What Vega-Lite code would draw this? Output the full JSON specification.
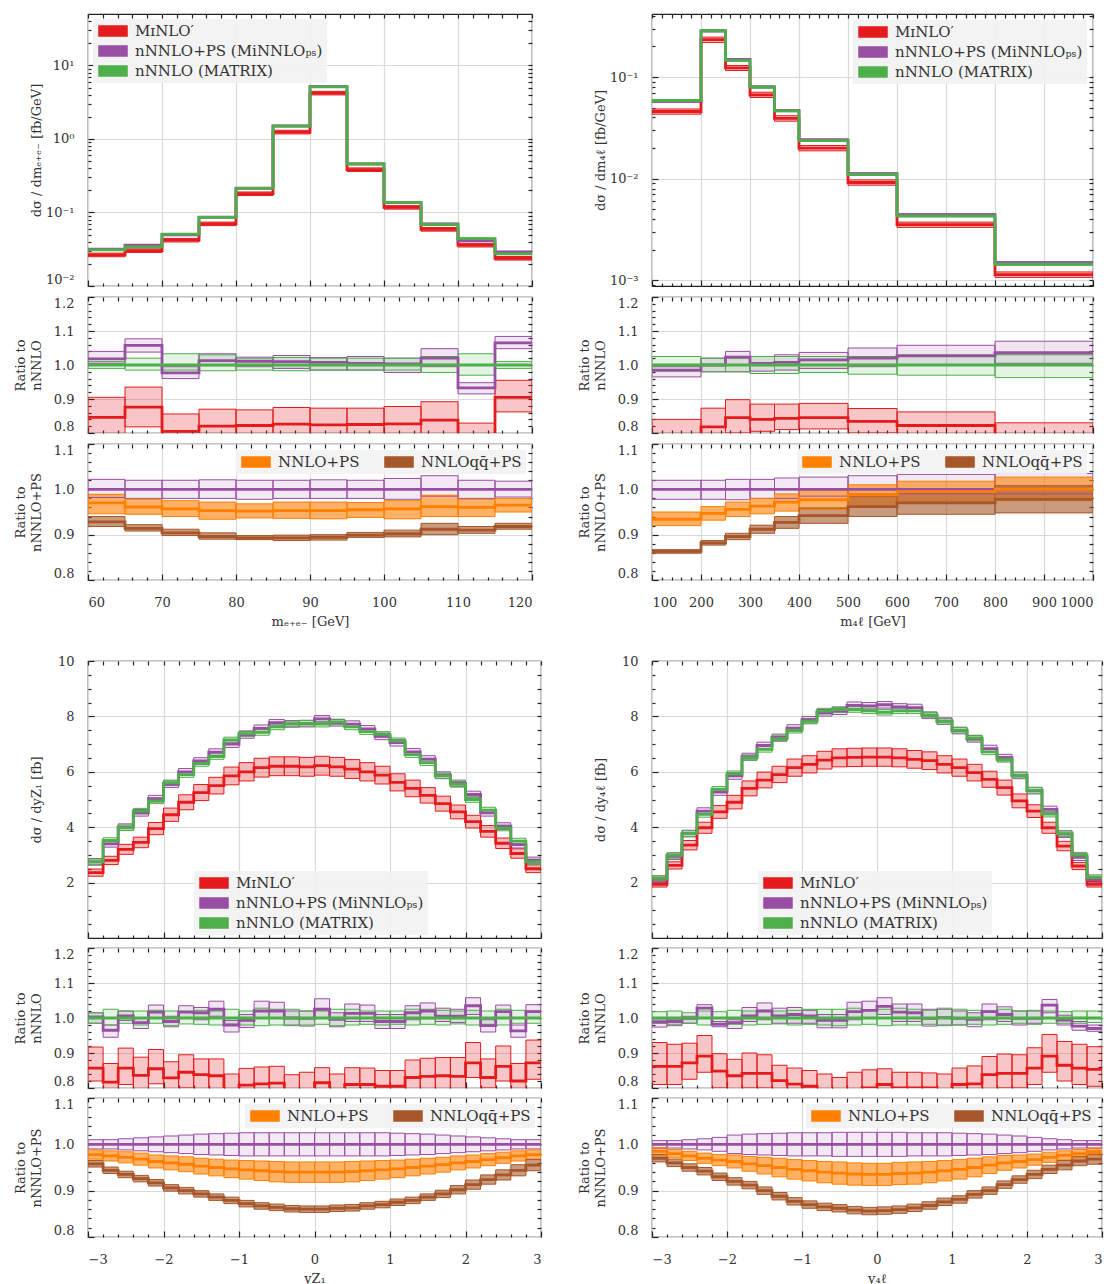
{
"$schema":"https://vega.github.io/schema/vega-lite/v6.json",
"padding":{"left":13,"top":12,"right":4,"bottom":2},
"data":{"values":[
{"o":"A","s":"r","a":60,"b":65,"c":0.0265,"l":0.025,"h":0.028,"q":0.846,"ql":0.79,"qh":0.905},
{"o":"A","s":"p","a":60,"b":65,"c":0.0316,"l":0.0311,"h":0.0321,"q":1.018,"ql":1.005,"qh":1.04,"r":1,"rl":0.982,"rh":1.022},
{"o":"A","s":"g","a":60,"b":65,"c":0.031,"l":0.0304,"h":0.0316,"q":1,"ql":0.99,"qh":1.01},
{"o":"A","s":"o","a":60,"b":65,"r":0.97,"rl":0.946,"rh":0.989},
{"o":"A","s":"b","a":60,"b":65,"r":0.928,"rl":0.918,"rh":0.94},
{"o":"A","s":"r","a":65,"b":70,"c":0.0303,"l":0.0286,"h":0.032,"q":0.876,"ql":0.818,"qh":0.935},
{"o":"A","s":"p","a":65,"b":70,"c":0.036,"l":0.0354,"h":0.0366,"q":1.0575,"ql":1.038,"qh":1.077,"r":1,"rl":0.98,"rh":1.02},
{"o":"A","s":"g","a":65,"b":70,"c":0.034,"l":0.0333,"h":0.0347,"q":1,"ql":0.985,"qh":1.02},
{"o":"A","s":"o","a":65,"b":70,"r":0.961,"rl":0.945,"rh":0.978},
{"o":"A","s":"b","a":65,"b":70,"r":0.914,"rl":0.908,"rh":0.922},
{"o":"A","s":"r","a":70,"b":75,"c":0.042,"l":0.0397,"h":0.0444,"q":0.805,"ql":0.755,"qh":0.856},
{"o":"A","s":"p","a":70,"b":75,"c":0.0495,"l":0.0487,"h":0.0503,"q":0.977,"ql":0.96,"qh":0.995,"r":1,"rl":0.98,"rh":1.02},
{"o":"A","s":"g","a":70,"b":75,"c":0.0507,"l":0.0497,"h":0.0517,"q":1,"ql":0.985,"qh":1.033},
{"o":"A","s":"o","a":70,"b":75,"r":0.957,"rl":0.94,"rh":0.975},
{"o":"A","s":"b","a":70,"b":75,"r":0.904,"rl":0.898,"rh":0.912},
{"o":"A","s":"r","a":75,"b":80,"c":0.07,"l":0.0662,"h":0.074,"q":0.82,"ql":0.775,"qh":0.87},
{"o":"A","s":"p","a":75,"b":80,"c":0.0866,"l":0.0852,"h":0.088,"q":1.013,"ql":0.998,"qh":1.033,"r":1,"rl":0.98,"rh":1.021},
{"o":"A","s":"g","a":75,"b":80,"c":0.0855,"l":0.0838,"h":0.0872,"q":1,"ql":0.983,"qh":1.03},
{"o":"A","s":"o","a":75,"b":80,"r":0.953,"rl":0.934,"rh":0.972},
{"o":"A","s":"b","a":75,"b":80,"r":0.896,"rl":0.89,"rh":0.904},
{"o":"A","s":"r","a":80,"b":85,"c":0.18,"l":0.17,"h":0.19,"q":0.822,"ql":0.778,"qh":0.868},
{"o":"A","s":"p","a":80,"b":85,"c":0.214,"l":0.211,"h":0.217,"q":1.011,"ql":0.995,"qh":1.023,"r":1,"rl":0.978,"rh":1.02},
{"o":"A","s":"g","a":80,"b":85,"c":0.212,"l":0.208,"h":0.216,"q":1,"ql":0.985,"qh":1.02},
{"o":"A","s":"o","a":80,"b":85,"r":0.952,"rl":0.937,"rh":0.968},
{"o":"A","s":"b","a":80,"b":85,"r":0.893,"rl":0.889,"rh":0.898},
{"o":"A","s":"r","a":85,"b":90,"c":1.24,"l":1.17,"h":1.31,"q":0.826,"ql":0.78,"qh":0.875},
{"o":"A","s":"p","a":85,"b":90,"c":1.505,"l":1.48,"h":1.53,"q":1.01,"ql":0.99,"qh":1.028,"r":1,"rl":0.98,"rh":1.02},
{"o":"A","s":"g","a":85,"b":90,"c":1.49,"l":1.46,"h":1.52,"q":1,"ql":0.983,"qh":1.022},
{"o":"A","s":"o","a":85,"b":90,"r":0.953,"rl":0.936,"rh":0.972},
{"o":"A","s":"b","a":85,"b":90,"r":0.893,"rl":0.887,"rh":0.899},
{"o":"A","s":"r","a":90,"b":95,"c":4.2,"l":3.97,"h":4.44,"q":0.824,"ql":0.778,"qh":0.873},
{"o":"A","s":"p","a":90,"b":95,"c":5.16,"l":5.08,"h":5.24,"q":1.008,"ql":0.985,"qh":1.022,"r":1,"rl":0.98,"rh":1.021},
{"o":"A","s":"g","a":90,"b":95,"c":5.12,"l":5.02,"h":5.22,"q":1,"ql":0.985,"qh":1.02},
{"o":"A","s":"o","a":90,"b":95,"r":0.953,"rl":0.935,"rh":0.972},
{"o":"A","s":"b","a":90,"b":95,"r":0.894,"rl":0.888,"rh":0.9},
{"o":"A","s":"r","a":95,"b":100,"c":0.382,"l":0.361,"h":0.404,"q":0.825,"ql":0.778,"qh":0.873},
{"o":"A","s":"p","a":95,"b":100,"c":0.458,"l":0.451,"h":0.465,"q":1.005,"ql":0.985,"qh":1.025,"r":1,"rl":0.98,"rh":1.02},
{"o":"A","s":"g","a":95,"b":100,"c":0.456,"l":0.447,"h":0.465,"q":1,"ql":0.985,"qh":1.02},
{"o":"A","s":"o","a":95,"b":100,"r":0.955,"rl":0.938,"rh":0.971},
{"o":"A","s":"b","a":95,"b":100,"r":0.899,"rl":0.894,"rh":0.905},
{"o":"A","s":"r","a":100,"b":105,"c":0.117,"l":0.111,"h":0.124,"q":0.827,"ql":0.78,"qh":0.878},
{"o":"A","s":"p","a":100,"b":105,"c":0.1374,"l":0.135,"h":0.1396,"q":1.003,"ql":0.978,"qh":1.02,"r":1,"rl":0.978,"rh":1.024},
{"o":"A","s":"g","a":100,"b":105,"c":0.137,"l":0.134,"h":0.14,"q":1,"ql":0.985,"qh":1.02},
{"o":"A","s":"o","a":100,"b":105,"r":0.957,"rl":0.935,"rh":0.975},
{"o":"A","s":"b","a":100,"b":105,"r":0.902,"rl":0.895,"rh":0.91},
{"o":"A","s":"r","a":105,"b":110,"c":0.059,"l":0.0557,"h":0.0624,"q":0.838,"ql":0.79,"qh":0.892},
{"o":"A","s":"p","a":105,"b":110,"c":0.07,"l":0.0688,"h":0.0712,"q":1.02,"ql":0.995,"qh":1.048,"r":1,"rl":0.985,"rh":1.03},
{"o":"A","s":"g","a":105,"b":110,"c":0.0686,"l":0.0672,"h":0.07,"q":1,"ql":0.978,"qh":1.025},
{"o":"A","s":"o","a":105,"b":110,"r":0.962,"rl":0.94,"rh":0.987},
{"o":"A","s":"b","a":105,"b":110,"r":0.912,"rl":0.9,"rh":0.925},
{"o":"A","s":"r","a":110,"b":115,"c":0.0359,"l":0.0339,"h":0.038,"q":0.78,"ql":0.73,"qh":0.829},
{"o":"A","s":"p","a":110,"b":115,"c":0.0412,"l":0.0405,"h":0.0419,"q":0.933,"ql":0.915,"qh":0.948,"r":1,"rl":0.98,"rh":1.02},
{"o":"A","s":"g","a":110,"b":115,"c":0.0442,"l":0.0433,"h":0.0451,"q":1,"ql":0.97,"qh":1.033},
{"o":"A","s":"o","a":110,"b":115,"r":0.96,"rl":0.94,"rh":0.978},
{"o":"A","s":"b","a":110,"b":115,"r":0.91,"rl":0.903,"rh":0.918},
{"o":"A","s":"r","a":115,"b":120,"c":0.0238,"l":0.0225,"h":0.0252,"q":0.905,"ql":0.862,"qh":0.955},
{"o":"A","s":"p","a":115,"b":120,"c":0.0291,"l":0.0286,"h":0.0296,"q":1.065,"ql":1.048,"qh":1.084,"r":1,"rl":0.983,"rh":1.018},
{"o":"A","s":"g","a":115,"b":120,"c":0.0273,"l":0.0268,"h":0.0278,"q":1,"ql":0.99,"qh":1.01},
{"o":"A","s":"o","a":115,"b":120,"r":0.965,"rl":0.95,"rh":0.98},
{"o":"A","s":"b","a":115,"b":120,"r":0.918,"rl":0.912,"rh":0.925},
{"o":"B","s":"r","a":100,"b":200,"c":0.0458,"l":0.0431,"h":0.0485,"q":0.79,"ql":0.75,"qh":0.84},
{"o":"B","s":"p","a":100,"b":200,"c":0.0578,"l":0.0566,"h":0.059,"q":0.985,"ql":0.965,"qh":0.995,"r":1,"rl":0.978,"rh":1.02},
{"o":"B","s":"g","a":100,"b":200,"c":0.0587,"l":0.0575,"h":0.0599,"q":1,"ql":0.982,"qh":1.025},
{"o":"B","s":"o","a":100,"b":200,"r":0.934,"rl":0.92,"rh":0.95},
{"o":"B","s":"b","a":100,"b":200,"r":0.863,"rl":0.859,"rh":0.867},
{"o":"B","s":"r","a":200,"b":250,"c":0.233,"l":0.219,"h":0.247,"q":0.818,"ql":0.77,"qh":0.873},
{"o":"B","s":"p","a":200,"b":250,"c":0.285,"l":0.279,"h":0.291,"q":1,"ql":0.98,"qh":1.02,"r":1,"rl":0.978,"rh":1.02},
{"o":"B","s":"g","a":200,"b":250,"c":0.285,"l":0.279,"h":0.291,"q":1,"ql":0.98,"qh":1.02},
{"o":"B","s":"o","a":200,"b":250,"r":0.947,"rl":0.932,"rh":0.962},
{"o":"B","s":"b","a":200,"b":250,"r":0.882,"rl":0.877,"rh":0.887},
{"o":"B","s":"r","a":250,"b":300,"c":0.123,"l":0.116,"h":0.13,"q":0.845,"ql":0.8,"qh":0.898},
{"o":"B","s":"p","a":250,"b":300,"c":0.149,"l":0.146,"h":0.152,"q":1.023,"ql":0.98,"qh":1.04,"r":1,"rl":0.977,"rh":1.022},
{"o":"B","s":"g","a":250,"b":300,"c":0.146,"l":0.143,"h":0.149,"q":1,"ql":0.98,"qh":1.02},
{"o":"B","s":"o","a":250,"b":300,"r":0.956,"rl":0.94,"rh":0.972},
{"o":"B","s":"b","a":250,"b":300,"r":0.896,"rl":0.889,"rh":0.903},
{"o":"B","s":"r","a":300,"b":350,"c":0.0669,"l":0.0629,"h":0.0709,"q":0.84,"ql":0.805,"qh":0.885},
{"o":"B","s":"p","a":300,"b":350,"c":0.08,"l":0.0784,"h":0.0816,"q":1.005,"ql":0.982,"qh":1.025,"r":1,"rl":0.98,"rh":1.022},
{"o":"B","s":"g","a":300,"b":350,"c":0.0796,"l":0.078,"h":0.0812,"q":1,"ql":0.975,"qh":1.025},
{"o":"B","s":"o","a":300,"b":350,"r":0.963,"rl":0.946,"rh":0.98},
{"o":"B","s":"b","a":300,"b":350,"r":0.912,"rl":0.903,"rh":0.921},
{"o":"B","s":"r","a":350,"b":400,"c":0.0392,"l":0.0368,"h":0.0416,"q":0.843,"ql":0.81,"qh":0.885},
{"o":"B","s":"p","a":350,"b":400,"c":0.0469,"l":0.046,"h":0.0478,"q":1.008,"ql":0.985,"qh":1.03,"r":1,"rl":0.98,"rh":1.025},
{"o":"B","s":"g","a":350,"b":400,"c":0.0465,"l":0.0456,"h":0.0474,"q":1,"ql":0.975,"qh":1.025},
{"o":"B","s":"o","a":350,"b":400,"r":0.972,"rl":0.952,"rh":0.99},
{"o":"B","s":"b","a":350,"b":400,"r":0.927,"rl":0.914,"rh":0.94},
{"o":"B","s":"r","a":400,"b":500,"c":0.02,"l":0.0188,"h":0.0212,"q":0.845,"ql":0.812,"qh":0.887},
{"o":"B","s":"p","a":400,"b":500,"c":0.0241,"l":0.0236,"h":0.0246,"q":1.015,"ql":0.99,"qh":1.037,"r":1,"rl":0.985,"rh":1.027},
{"o":"B","s":"g","a":400,"b":500,"c":0.0237,"l":0.0232,"h":0.0242,"q":1,"ql":0.978,"qh":1.025},
{"o":"B","s":"o","a":400,"b":500,"r":0.977,"rl":0.955,"rh":0.998},
{"o":"B","s":"b","a":400,"b":500,"r":0.942,"rl":0.925,"rh":0.959},
{"o":"B","s":"r","a":500,"b":600,"c":0.00918,"l":0.00863,"h":0.00973,"q":0.834,"ql":0.8,"qh":0.872},
{"o":"B","s":"p","a":500,"b":600,"c":0.0112,"l":0.011,"h":0.0114,"q":1.02,"ql":0.995,"qh":1.05,"r":1,"rl":0.99,"rh":1.03},
{"o":"B","s":"g","a":500,"b":600,"c":0.011,"l":0.0108,"h":0.0112,"q":1,"ql":0.973,"qh":1.025},
{"o":"B","s":"o","a":500,"b":600,"r":0.988,"rl":0.963,"rh":1.01},
{"o":"B","s":"b","a":500,"b":600,"r":0.962,"rl":0.94,"rh":0.984},
{"o":"B","s":"r","a":600,"b":800,"c":0.00353,"l":0.00332,"h":0.00374,"q":0.822,"ql":0.79,"qh":0.862},
{"o":"B","s":"p","a":600,"b":800,"c":0.00442,"l":0.00433,"h":0.00451,"q":1.027,"ql":1,"qh":1.058,"r":1,"rl":0.99,"rh":1.033},
{"o":"B","s":"g","a":600,"b":800,"c":0.0043,"l":0.00421,"h":0.00439,"q":1,"ql":0.97,"qh":1.03},
{"o":"B","s":"o","a":600,"b":800,"r":0.995,"rl":0.97,"rh":1.018},
{"o":"B","s":"b","a":600,"b":800,"r":0.97,"rl":0.945,"rh":0.995},
{"o":"B","s":"r","a":800,"b":1000,"c":0.00114,"l":0.00107,"h":0.00121,"q":0.79,"ql":0.75,"qh":0.83},
{"o":"B","s":"p","a":800,"b":1000,"c":0.00149,"l":0.00146,"h":0.00152,"q":1.036,"ql":1.005,"qh":1.07,"r":1,"rl":0.99,"rh":1.035},
{"o":"B","s":"g","a":800,"b":1000,"c":0.00144,"l":0.00141,"h":0.00147,"q":1,"ql":0.963,"qh":1.03},
{"o":"B","s":"o","a":800,"b":1000,"r":1,"rl":0.975,"rh":1.027},
{"o":"B","s":"b","a":800,"b":1000,"r":0.978,"rl":0.948,"rh":1.008},
{"o":"C","s":"r","a":-3,"b":-2.8,"c":2.36,"l":2.23,"h":2.49,"q":0.857,"ql":0.82,"qh":0.917},
{"o":"C","s":"p","a":-3,"b":-2.8,"c":2.75,"l":2.63,"h":2.87,"q":1.003,"ql":0.985,"qh":1.015,"r":1,"rl":0.99,"rh":1.01},
{"o":"C","s":"g","a":-3,"b":-2.8,"c":2.75,"l":2.65,"h":2.85,"q":1,"ql":0.985,"qh":1.015},
{"o":"C","s":"o","a":-3,"b":-2.8,"r":0.978,"rl":0.968,"rh":0.988},
{"o":"C","s":"b","a":-3,"b":-2.8,"r":0.958,"rl":0.951,"rh":0.965},
{"o":"C","s":"r","a":-2.8,"b":-2.6,"c":2.8,"l":2.65,"h":2.95,"q":0.817,"ql":0.78,"qh":0.87},
{"o":"C","s":"p","a":-2.8,"b":-2.6,"c":3.4,"l":3.28,"h":3.52,"q":0.965,"ql":0.945,"qh":0.98,"r":1,"rl":0.99,"rh":1.01},
{"o":"C","s":"g","a":-2.8,"b":-2.6,"c":3.52,"l":3.42,"h":3.62,"q":1,"ql":0.98,"qh":1.025},
{"o":"C","s":"o","a":-2.8,"b":-2.6,"r":0.975,"rl":0.964,"rh":0.986},
{"o":"C","s":"b","a":-2.8,"b":-2.6,"r":0.944,"rl":0.937,"rh":0.951},
{"o":"C","s":"r","a":-2.6,"b":-2.4,"c":3.2,"l":3.02,"h":3.38,"q":0.857,"ql":0.81,"qh":0.914},
{"o":"C","s":"p","a":-2.6,"b":-2.4,"c":4,"l":3.88,"h":4.12,"q":1.006,"ql":0.993,"qh":1.02,"r":1,"rl":0.988,"rh":1.012},
{"o":"C","s":"g","a":-2.6,"b":-2.4,"c":3.98,"l":3.88,"h":4.08,"q":1,"ql":0.985,"qh":1.02},
{"o":"C","s":"o","a":-2.6,"b":-2.4,"r":0.972,"rl":0.96,"rh":0.984},
{"o":"C","s":"b","a":-2.6,"b":-2.4,"r":0.935,"rl":0.928,"rh":0.942},
{"o":"C","s":"r","a":-2.4,"b":-2.2,"c":3.45,"l":3.26,"h":3.64,"q":0.836,"ql":0.79,"qh":0.888},
{"o":"C","s":"p","a":-2.4,"b":-2.2,"c":4.52,"l":4.4,"h":4.64,"q":0.987,"ql":0.97,"qh":1,"r":1,"rl":0.986,"rh":1.014},
{"o":"C","s":"g","a":-2.4,"b":-2.2,"c":4.58,"l":4.48,"h":4.68,"q":1,"ql":0.98,"qh":1.02},
{"o":"C","s":"o","a":-2.4,"b":-2.2,"r":0.968,"rl":0.955,"rh":0.981},
{"o":"C","s":"b","a":-2.4,"b":-2.2,"r":0.926,"rl":0.919,"rh":0.933},
{"o":"C","s":"r","a":-2.2,"b":-2,"c":3.95,"l":3.73,"h":4.17,"q":0.855,"ql":0.812,"qh":0.91},
{"o":"C","s":"p","a":-2.2,"b":-2,"c":5.03,"l":4.91,"h":5.15,"q":1.017,"ql":1,"qh":1.037,"r":1,"rl":0.984,"rh":1.016},
{"o":"C","s":"g","a":-2.2,"b":-2,"c":4.95,"l":4.85,"h":5.05,"q":1,"ql":0.985,"qh":1.022},
{"o":"C","s":"o","a":-2.2,"b":-2,"r":0.963,"rl":0.949,"rh":0.977},
{"o":"C","s":"b","a":-2.2,"b":-2,"r":0.917,"rl":0.91,"rh":0.924},
{"o":"C","s":"r","a":-2,"b":-1.8,"c":4.45,"l":4.21,"h":4.69,"q":0.829,"ql":0.785,"qh":0.875},
{"o":"C","s":"p","a":-2,"b":-1.8,"c":5.55,"l":5.43,"h":5.67,"q":0.99,"ql":0.975,"qh":1.005,"r":1,"rl":0.982,"rh":1.018},
{"o":"C","s":"g","a":-2,"b":-1.8,"c":5.6,"l":5.5,"h":5.7,"q":1,"ql":0.978,"qh":1.02},
{"o":"C","s":"o","a":-2,"b":-1.8,"r":0.96,"rl":0.945,"rh":0.975},
{"o":"C","s":"b","a":-2,"b":-1.8,"r":0.906,"rl":0.899,"rh":0.913},
{"o":"C","s":"r","a":-1.8,"b":-1.6,"c":4.9,"l":4.63,"h":5.17,"q":0.845,"ql":0.8,"qh":0.895},
{"o":"C","s":"p","a":-1.8,"b":-1.6,"c":6,"l":5.88,"h":6.12,"q":1.017,"ql":1,"qh":1.035,"r":1,"rl":0.98,"rh":1.02},
{"o":"C","s":"g","a":-1.8,"b":-1.6,"c":5.9,"l":5.8,"h":6,"q":1,"ql":0.983,"qh":1.02},
{"o":"C","s":"o","a":-1.8,"b":-1.6,"r":0.957,"rl":0.941,"rh":0.973},
{"o":"C","s":"b","a":-1.8,"b":-1.6,"r":0.9,"rl":0.893,"rh":0.907},
{"o":"C","s":"r","a":-1.6,"b":-1.4,"c":5.25,"l":4.96,"h":5.54,"q":0.838,"ql":0.795,"qh":0.883},
{"o":"C","s":"p","a":-1.6,"b":-1.4,"c":6.39,"l":6.27,"h":6.51,"q":1.015,"ql":0.995,"qh":1.03,"r":1,"rl":0.978,"rh":1.022},
{"o":"C","s":"g","a":-1.6,"b":-1.4,"c":6.3,"l":6.2,"h":6.4,"q":1,"ql":0.982,"qh":1.022},
{"o":"C","s":"o","a":-1.6,"b":-1.4,"r":0.953,"rl":0.936,"rh":0.97},
{"o":"C","s":"b","a":-1.6,"b":-1.4,"r":0.893,"rl":0.886,"rh":0.9},
{"o":"C","s":"r","a":-1.4,"b":-1.2,"c":5.5,"l":5.2,"h":5.8,"q":0.835,"ql":0.79,"qh":0.883},
{"o":"C","s":"p","a":-1.4,"b":-1.2,"c":6.71,"l":6.59,"h":6.83,"q":1.025,"ql":1.005,"qh":1.048,"r":1,"rl":0.977,"rh":1.023},
{"o":"C","s":"g","a":-1.4,"b":-1.2,"c":6.55,"l":6.45,"h":6.65,"q":1,"ql":0.98,"qh":1.02},
{"o":"C","s":"o","a":-1.4,"b":-1.2,"r":0.95,"rl":0.932,"rh":0.968},
{"o":"C","s":"b","a":-1.4,"b":-1.2,"r":0.886,"rl":0.879,"rh":0.893},
{"o":"C","s":"r","a":-1.2,"b":-1,"c":5.85,"l":5.53,"h":6.17,"q":0.79,"ql":0.76,"qh":0.84},
{"o":"C","s":"p","a":-1.2,"b":-1,"c":7,"l":6.88,"h":7.12,"q":0.98,"ql":0.96,"qh":0.993,"r":1,"rl":0.976,"rh":1.024},
{"o":"C","s":"g","a":-1.2,"b":-1,"c":7.15,"l":7.05,"h":7.25,"q":1,"ql":0.982,"qh":1.025},
{"o":"C","s":"o","a":-1.2,"b":-1,"r":0.947,"rl":0.928,"rh":0.966},
{"o":"C","s":"b","a":-1.2,"b":-1,"r":0.879,"rl":0.872,"rh":0.886},
{"o":"C","s":"r","a":-1,"b":-0.8,"c":6,"l":5.67,"h":6.33,"q":0.808,"ql":0.77,"qh":0.856},
{"o":"C","s":"p","a":-1,"b":-0.8,"c":7.33,"l":7.21,"h":7.45,"q":0.993,"ql":0.973,"qh":1.01,"r":1,"rl":0.975,"rh":1.025},
{"o":"C","s":"g","a":-1,"b":-0.8,"c":7.38,"l":7.28,"h":7.48,"q":1,"ql":0.98,"qh":1.02},
{"o":"C","s":"o","a":-1,"b":-0.8,"r":0.945,"rl":0.925,"rh":0.965},
{"o":"C","s":"b","a":-1,"b":-0.8,"r":0.872,"rl":0.865,"rh":0.879},
{"o":"C","s":"r","a":-0.8,"b":-0.6,"c":6.15,"l":5.81,"h":6.49,"q":0.812,"ql":0.77,"qh":0.86},
{"o":"C","s":"p","a":-0.8,"b":-0.6,"c":7.57,"l":7.45,"h":7.69,"q":1.02,"ql":1,"qh":1.048,"r":1,"rl":0.975,"rh":1.025},
{"o":"C","s":"g","a":-0.8,"b":-0.6,"c":7.42,"l":7.32,"h":7.52,"q":1,"ql":0.978,"qh":1.028},
{"o":"C","s":"o","a":-0.8,"b":-0.6,"r":0.943,"rl":0.922,"rh":0.964},
{"o":"C","s":"b","a":-0.8,"b":-0.6,"r":0.867,"rl":0.86,"rh":0.874},
{"o":"C","s":"r","a":-0.6,"b":-0.4,"c":6.2,"l":5.86,"h":6.54,"q":0.814,"ql":0.775,"qh":0.862},
{"o":"C","s":"p","a":-0.6,"b":-0.4,"c":7.77,"l":7.65,"h":7.89,"q":1.02,"ql":1,"qh":1.045,"r":1,"rl":0.975,"rh":1.025},
{"o":"C","s":"g","a":-0.6,"b":-0.4,"c":7.62,"l":7.52,"h":7.72,"q":1,"ql":0.98,"qh":1.025},
{"o":"C","s":"o","a":-0.6,"b":-0.4,"r":0.941,"rl":0.919,"rh":0.963},
{"o":"C","s":"b","a":-0.6,"b":-0.4,"r":0.864,"rl":0.857,"rh":0.871},
{"o":"C","s":"r","a":-0.4,"b":-0.2,"c":6.2,"l":5.86,"h":6.54,"q":0.795,"ql":0.76,"qh":0.838},
{"o":"C","s":"p","a":-0.4,"b":-0.2,"c":7.73,"l":7.61,"h":7.85,"q":1,"ql":0.98,"qh":1.02,"r":1,"rl":0.975,"rh":1.025},
{"o":"C","s":"g","a":-0.4,"b":-0.2,"c":7.73,"l":7.63,"h":7.83,"q":1,"ql":0.978,"qh":1.025},
{"o":"C","s":"o","a":-0.4,"b":-0.2,"r":0.94,"rl":0.918,"rh":0.962},
{"o":"C","s":"b","a":-0.4,"b":-0.2,"r":0.861,"rl":0.854,"rh":0.868},
{"o":"C","s":"r","a":-0.2,"b":0,"c":6.18,"l":5.84,"h":6.52,"q":0.795,"ql":0.76,"qh":0.845},
{"o":"C","s":"p","a":-0.2,"b":0,"c":7.74,"l":7.62,"h":7.86,"q":0.999,"ql":0.977,"qh":1.02,"r":1,"rl":0.975,"rh":1.025},
{"o":"C","s":"g","a":-0.2,"b":0,"c":7.75,"l":7.65,"h":7.85,"q":1,"ql":0.98,"qh":1.02},
{"o":"C","s":"o","a":-0.2,"b":0,"r":0.94,"rl":0.918,"rh":0.962},
{"o":"C","s":"b","a":-0.2,"b":0,"r":0.86,"rl":0.853,"rh":0.867},
{"o":"C","s":"r","a":0,"b":0.2,"c":6.22,"l":5.88,"h":6.56,"q":0.815,"ql":0.78,"qh":0.858},
{"o":"C","s":"p","a":0,"b":0.2,"c":7.91,"l":7.79,"h":8.03,"q":1.025,"ql":1,"qh":1.055,"r":1,"rl":0.975,"rh":1.025},
{"o":"C","s":"g","a":0,"b":0.2,"c":7.72,"l":7.62,"h":7.82,"q":1,"ql":0.982,"qh":1.02},
{"o":"C","s":"o","a":0,"b":0.2,"r":0.94,"rl":0.918,"rh":0.962},
{"o":"C","s":"b","a":0,"b":0.2,"r":0.86,"rl":0.853,"rh":0.867},
{"o":"C","s":"r","a":0.2,"b":0.4,"c":6.18,"l":5.84,"h":6.52,"q":0.795,"ql":0.76,"qh":0.84},
{"o":"C","s":"p","a":0.2,"b":0.4,"c":7.77,"l":7.65,"h":7.89,"q":0.996,"ql":0.975,"qh":1.015,"r":1,"rl":0.975,"rh":1.025},
{"o":"C","s":"g","a":0.2,"b":0.4,"c":7.8,"l":7.7,"h":7.9,"q":1,"ql":0.978,"qh":1.025},
{"o":"C","s":"o","a":0.2,"b":0.4,"r":0.94,"rl":0.918,"rh":0.962},
{"o":"C","s":"b","a":0.2,"b":0.4,"r":0.862,"rl":0.855,"rh":0.869},
{"o":"C","s":"r","a":0.4,"b":0.6,"c":6.1,"l":5.76,"h":6.44,"q":0.81,"ql":0.77,"qh":0.858},
{"o":"C","s":"p","a":0.4,"b":0.6,"c":7.72,"l":7.6,"h":7.84,"q":1.013,"ql":0.99,"qh":1.04,"r":1,"rl":0.975,"rh":1.025},
{"o":"C","s":"g","a":0.4,"b":0.6,"c":7.62,"l":7.52,"h":7.72,"q":1,"ql":0.98,"qh":1.025},
{"o":"C","s":"o","a":0.4,"b":0.6,"r":0.941,"rl":0.919,"rh":0.963},
{"o":"C","s":"b","a":0.4,"b":0.6,"r":0.863,"rl":0.856,"rh":0.87},
{"o":"C","s":"r","a":0.6,"b":0.8,"c":6,"l":5.67,"h":6.33,"q":0.81,"ql":0.77,"qh":0.857},
{"o":"C","s":"p","a":0.6,"b":0.8,"c":7.55,"l":7.43,"h":7.67,"q":1.013,"ql":0.99,"qh":1.037,"r":1,"rl":0.975,"rh":1.025},
{"o":"C","s":"g","a":0.6,"b":0.8,"c":7.45,"l":7.35,"h":7.55,"q":1,"ql":0.982,"qh":1.02},
{"o":"C","s":"o","a":0.6,"b":0.8,"r":0.943,"rl":0.922,"rh":0.964},
{"o":"C","s":"b","a":0.6,"b":0.8,"r":0.867,"rl":0.86,"rh":0.874},
{"o":"C","s":"r","a":0.8,"b":1,"c":5.88,"l":5.56,"h":6.2,"q":0.805,"ql":0.77,"qh":0.85},
{"o":"C","s":"p","a":0.8,"b":1,"c":7.28,"l":7.16,"h":7.4,"q":0.99,"ql":0.97,"qh":1.01,"r":1,"rl":0.975,"rh":1.025},
{"o":"C","s":"g","a":0.8,"b":1,"c":7.35,"l":7.25,"h":7.45,"q":1,"ql":0.98,"qh":1.02},
{"o":"C","s":"o","a":0.8,"b":1,"r":0.945,"rl":0.925,"rh":0.965},
{"o":"C","s":"b","a":0.8,"b":1,"r":0.87,"rl":0.863,"rh":0.877},
{"o":"C","s":"r","a":1,"b":1.2,"c":5.62,"l":5.31,"h":5.93,"q":0.805,"ql":0.77,"qh":0.85},
{"o":"C","s":"p","a":1,"b":1.2,"c":7.05,"l":6.93,"h":7.17,"q":0.99,"ql":0.97,"qh":1.01,"r":1,"rl":0.976,"rh":1.024},
{"o":"C","s":"g","a":1,"b":1.2,"c":7.12,"l":7.02,"h":7.22,"q":1,"ql":0.982,"qh":1.02},
{"o":"C","s":"o","a":1,"b":1.2,"r":0.947,"rl":0.928,"rh":0.966},
{"o":"C","s":"b","a":1,"b":1.2,"r":0.875,"rl":0.868,"rh":0.882},
{"o":"C","s":"r","a":1.2,"b":1.4,"c":5.4,"l":5.1,"h":5.7,"q":0.83,"ql":0.79,"qh":0.88},
{"o":"C","s":"p","a":1.2,"b":1.4,"c":6.72,"l":6.6,"h":6.84,"q":1.015,"ql":0.995,"qh":1.035,"r":1,"rl":0.977,"rh":1.023},
{"o":"C","s":"g","a":1.2,"b":1.4,"c":6.62,"l":6.52,"h":6.72,"q":1,"ql":0.98,"qh":1.025},
{"o":"C","s":"o","a":1.2,"b":1.4,"r":0.95,"rl":0.932,"rh":0.968},
{"o":"C","s":"b","a":1.2,"b":1.4,"r":0.879,"rl":0.872,"rh":0.886},
{"o":"C","s":"r","a":1.4,"b":1.6,"c":5.15,"l":4.87,"h":5.43,"q":0.833,"ql":0.79,"qh":0.885},
{"o":"C","s":"p","a":1.4,"b":1.6,"c":6.46,"l":6.34,"h":6.58,"q":1.02,"ql":0.998,"qh":1.043,"r":1,"rl":0.978,"rh":1.022},
{"o":"C","s":"g","a":1.4,"b":1.6,"c":6.33,"l":6.23,"h":6.43,"q":1,"ql":0.982,"qh":1.025},
{"o":"C","s":"o","a":1.4,"b":1.6,"r":0.953,"rl":0.936,"rh":0.97},
{"o":"C","s":"b","a":1.4,"b":1.6,"r":0.886,"rl":0.879,"rh":0.893},
{"o":"C","s":"r","a":1.6,"b":1.8,"c":4.85,"l":4.58,"h":5.12,"q":0.835,"ql":0.79,"qh":0.887},
{"o":"C","s":"p","a":1.6,"b":1.8,"c":5.88,"l":5.76,"h":6,"q":1.005,"ql":0.99,"qh":1.028,"r":1,"rl":0.98,"rh":1.02},
{"o":"C","s":"g","a":1.6,"b":1.8,"c":5.85,"l":5.75,"h":5.95,"q":1,"ql":0.98,"qh":1.022},
{"o":"C","s":"o","a":1.6,"b":1.8,"r":0.956,"rl":0.94,"rh":0.972},
{"o":"C","s":"b","a":1.6,"b":1.8,"r":0.893,"rl":0.885,"rh":0.901},
{"o":"C","s":"r","a":1.8,"b":2,"c":4.55,"l":4.3,"h":4.8,"q":0.833,"ql":0.79,"qh":0.887},
{"o":"C","s":"p","a":1.8,"b":2,"c":5.58,"l":5.46,"h":5.7,"q":1.005,"ql":0.987,"qh":1.025,"r":1,"rl":0.982,"rh":1.018},
{"o":"C","s":"g","a":1.8,"b":2,"c":5.55,"l":5.45,"h":5.65,"q":1,"ql":0.983,"qh":1.02},
{"o":"C","s":"o","a":1.8,"b":2,"r":0.96,"rl":0.945,"rh":0.975},
{"o":"C","s":"b","a":1.8,"b":2,"r":0.902,"rl":0.893,"rh":0.911},
{"o":"C","s":"r","a":2,"b":2.2,"c":4.2,"l":3.97,"h":4.43,"q":0.872,"ql":0.83,"qh":0.93},
{"o":"C","s":"p","a":2,"b":2.2,"c":5.18,"l":5.06,"h":5.3,"q":1.035,"ql":1.01,"qh":1.058,"r":1,"rl":0.984,"rh":1.016},
{"o":"C","s":"g","a":2,"b":2.2,"c":5,"l":4.9,"h":5.1,"q":1,"ql":0.98,"qh":1.022},
{"o":"C","s":"o","a":2,"b":2.2,"r":0.963,"rl":0.949,"rh":0.977},
{"o":"C","s":"b","a":2,"b":2.2,"r":0.913,"rl":0.903,"rh":0.923},
{"o":"C","s":"r","a":2.2,"b":2.4,"c":3.85,"l":3.64,"h":4.06,"q":0.83,"ql":0.8,"qh":0.883},
{"o":"C","s":"p","a":2.2,"b":2.4,"c":4.52,"l":4.4,"h":4.64,"q":0.978,"ql":0.96,"qh":0.995,"r":1,"rl":0.986,"rh":1.014},
{"o":"C","s":"g","a":2.2,"b":2.4,"c":4.62,"l":4.52,"h":4.72,"q":1,"ql":0.982,"qh":1.02},
{"o":"C","s":"o","a":2.2,"b":2.4,"r":0.967,"rl":0.954,"rh":0.98},
{"o":"C","s":"b","a":2.2,"b":2.4,"r":0.924,"rl":0.914,"rh":0.934},
{"o":"C","s":"r","a":2.4,"b":2.6,"c":3.42,"l":3.23,"h":3.61,"q":0.862,"ql":0.82,"qh":0.92},
{"o":"C","s":"p","a":2.4,"b":2.6,"c":4.04,"l":3.92,"h":4.16,"q":1.018,"ql":1,"qh":1.037,"r":1,"rl":0.988,"rh":1.012},
{"o":"C","s":"g","a":2.4,"b":2.6,"c":3.97,"l":3.87,"h":4.07,"q":1,"ql":0.98,"qh":1.025},
{"o":"C","s":"o","a":2.4,"b":2.6,"r":0.971,"rl":0.959,"rh":0.983},
{"o":"C","s":"b","a":2.4,"b":2.6,"r":0.934,"rl":0.923,"rh":0.945},
{"o":"C","s":"r","a":2.6,"b":2.8,"c":3.05,"l":2.88,"h":3.22,"q":0.82,"ql":0.785,"qh":0.87},
{"o":"C","s":"p","a":2.6,"b":2.8,"c":3.37,"l":3.25,"h":3.49,"q":0.963,"ql":0.945,"qh":0.98,"r":1,"rl":0.99,"rh":1.01},
{"o":"C","s":"g","a":2.6,"b":2.8,"c":3.5,"l":3.4,"h":3.6,"q":1,"ql":0.985,"qh":1.022},
{"o":"C","s":"o","a":2.6,"b":2.8,"r":0.975,"rl":0.964,"rh":0.986},
{"o":"C","s":"b","a":2.6,"b":2.8,"r":0.944,"rl":0.932,"rh":0.956},
{"o":"C","s":"r","a":2.8,"b":3,"c":2.5,"l":2.36,"h":2.64,"q":0.872,"ql":0.825,"qh":0.937},
{"o":"C","s":"p","a":2.8,"b":3,"c":2.8,"l":2.68,"h":2.92,"q":1.018,"ql":1,"qh":1.038,"r":1,"rl":0.99,"rh":1.01},
{"o":"C","s":"g","a":2.8,"b":3,"c":2.75,"l":2.65,"h":2.85,"q":1,"ql":0.985,"qh":1.02},
{"o":"C","s":"o","a":2.8,"b":3,"r":0.978,"rl":0.968,"rh":0.988},
{"o":"C","s":"b","a":2.8,"b":3,"r":0.955,"rl":0.943,"rh":0.967},
{"o":"D","s":"r","a":-3,"b":-2.8,"c":1.94,"l":1.84,"h":2.04,"q":0.862,"ql":0.81,"qh":0.93},
{"o":"D","s":"p","a":-3,"b":-2.8,"c":2.12,"l":2,"h":2.24,"q":0.988,"ql":0.974,"qh":0.994,"r":1,"rl":0.992,"rh":1.008},
{"o":"D","s":"g","a":-3,"b":-2.8,"c":2.15,"l":2.05,"h":2.25,"q":1,"ql":0.985,"qh":1.018},
{"o":"D","s":"o","a":-3,"b":-2.8,"r":0.985,"rl":0.977,"rh":0.993},
{"o":"D","s":"b","a":-3,"b":-2.8,"r":0.97,"rl":0.962,"rh":0.978},
{"o":"D","s":"r","a":-2.8,"b":-2.6,"c":2.62,"l":2.49,"h":2.75,"q":0.862,"ql":0.81,"qh":0.925},
{"o":"D","s":"p","a":-2.8,"b":-2.6,"c":2.95,"l":2.83,"h":3.07,"q":0.99,"ql":0.978,"qh":0.995,"r":1,"rl":0.992,"rh":1.008},
{"o":"D","s":"g","a":-2.8,"b":-2.6,"c":2.98,"l":2.88,"h":3.08,"q":1,"ql":0.982,"qh":1.02},
{"o":"D","s":"o","a":-2.8,"b":-2.6,"r":0.98,"rl":0.971,"rh":0.989},
{"o":"D","s":"b","a":-2.8,"b":-2.6,"r":0.96,"rl":0.952,"rh":0.968},
{"o":"D","s":"r","a":-2.6,"b":-2.4,"c":3.35,"l":3.18,"h":3.52,"q":0.872,"ql":0.825,"qh":0.928},
{"o":"D","s":"p","a":-2.6,"b":-2.4,"c":3.77,"l":3.65,"h":3.89,"q":0.999,"ql":0.985,"qh":1.005,"r":1,"rl":0.99,"rh":1.01},
{"o":"D","s":"g","a":-2.6,"b":-2.4,"c":3.77,"l":3.67,"h":3.87,"q":1,"ql":0.985,"qh":1.015},
{"o":"D","s":"o","a":-2.6,"b":-2.4,"r":0.975,"rl":0.965,"rh":0.985},
{"o":"D","s":"b","a":-2.6,"b":-2.4,"r":0.95,"rl":0.942,"rh":0.958},
{"o":"D","s":"r","a":-2.4,"b":-2.2,"c":3.98,"l":3.78,"h":4.18,"q":0.891,"ql":0.845,"qh":0.95},
{"o":"D","s":"p","a":-2.4,"b":-2.2,"c":4.58,"l":4.46,"h":4.7,"q":1.028,"ql":1,"qh":1.038,"r":1,"rl":0.988,"rh":1.012},
{"o":"D","s":"g","a":-2.4,"b":-2.2,"c":4.46,"l":4.36,"h":4.56,"q":1,"ql":0.98,"qh":1.02},
{"o":"D","s":"o","a":-2.4,"b":-2.2,"r":0.97,"rl":0.959,"rh":0.981},
{"o":"D","s":"b","a":-2.4,"b":-2.2,"r":0.942,"rl":0.934,"rh":0.95},
{"o":"D","s":"r","a":-2.2,"b":-2,"c":4.55,"l":4.32,"h":4.78,"q":0.848,"ql":0.8,"qh":0.898},
{"o":"D","s":"p","a":-2.2,"b":-2,"c":5.27,"l":5.15,"h":5.39,"q":0.982,"ql":0.975,"qh":0.99,"r":1,"rl":0.985,"rh":1.015},
{"o":"D","s":"g","a":-2.2,"b":-2,"c":5.37,"l":5.27,"h":5.47,"q":1,"ql":0.985,"qh":1.018},
{"o":"D","s":"o","a":-2.2,"b":-2,"r":0.966,"rl":0.954,"rh":0.978},
{"o":"D","s":"b","a":-2.2,"b":-2,"r":0.93,"rl":0.922,"rh":0.938},
{"o":"D","s":"r","a":-2,"b":-1.8,"c":4.9,"l":4.66,"h":5.15,"q":0.835,"ql":0.79,"qh":0.882},
{"o":"D","s":"p","a":-2,"b":-1.8,"c":5.85,"l":5.73,"h":5.97,"q":0.987,"ql":0.97,"qh":0.995,"r":1,"rl":0.98,"rh":1.02},
{"o":"D","s":"g","a":-2,"b":-1.8,"c":5.93,"l":5.83,"h":6.03,"q":1,"ql":0.982,"qh":1.022},
{"o":"D","s":"o","a":-2,"b":-1.8,"r":0.963,"rl":0.949,"rh":0.977},
{"o":"D","s":"b","a":-2,"b":-1.8,"r":0.92,"rl":0.912,"rh":0.928},
{"o":"D","s":"r","a":-1.8,"b":-1.6,"c":5.4,"l":5.13,"h":5.67,"q":0.842,"ql":0.8,"qh":0.9},
{"o":"D","s":"p","a":-1.8,"b":-1.6,"c":6.55,"l":6.43,"h":6.67,"q":1.006,"ql":0.99,"qh":1.03,"r":1,"rl":0.978,"rh":1.022},
{"o":"D","s":"g","a":-1.8,"b":-1.6,"c":6.51,"l":6.41,"h":6.61,"q":1,"ql":0.98,"qh":1.02},
{"o":"D","s":"o","a":-1.8,"b":-1.6,"r":0.958,"rl":0.942,"rh":0.974},
{"o":"D","s":"b","a":-1.8,"b":-1.6,"r":0.912,"rl":0.904,"rh":0.92},
{"o":"D","s":"r","a":-1.6,"b":-1.4,"c":5.7,"l":5.42,"h":5.99,"q":0.842,"ql":0.8,"qh":0.895},
{"o":"D","s":"p","a":-1.6,"b":-1.4,"c":6.95,"l":6.83,"h":7.07,"q":1.02,"ql":0.995,"qh":1.043,"r":1,"rl":0.977,"rh":1.023},
{"o":"D","s":"g","a":-1.6,"b":-1.4,"c":6.81,"l":6.71,"h":6.91,"q":1,"ql":0.982,"qh":1.022},
{"o":"D","s":"o","a":-1.6,"b":-1.4,"r":0.954,"rl":0.936,"rh":0.972},
{"o":"D","s":"b","a":-1.6,"b":-1.4,"r":0.9,"rl":0.892,"rh":0.908},
{"o":"D","s":"r","a":-1.4,"b":-1.2,"c":5.9,"l":5.61,"h":6.2,"q":0.821,"ql":0.78,"qh":0.865},
{"o":"D","s":"p","a":-1.4,"b":-1.2,"c":7.24,"l":7.12,"h":7.36,"q":1.006,"ql":0.985,"qh":1.028,"r":1,"rl":0.976,"rh":1.024},
{"o":"D","s":"g","a":-1.4,"b":-1.2,"c":7.2,"l":7.1,"h":7.3,"q":1,"ql":0.983,"qh":1.02},
{"o":"D","s":"o","a":-1.4,"b":-1.2,"r":0.95,"rl":0.93,"rh":0.97},
{"o":"D","s":"b","a":-1.4,"b":-1.2,"r":0.888,"rl":0.88,"rh":0.896},
{"o":"D","s":"r","a":-1.2,"b":-1,"c":6.15,"l":5.84,"h":6.46,"q":0.811,"ql":0.775,"qh":0.857},
{"o":"D","s":"p","a":-1.2,"b":-1,"c":7.58,"l":7.46,"h":7.7,"q":1.01,"ql":0.985,"qh":1.03,"r":1,"rl":0.975,"rh":1.025},
{"o":"D","s":"g","a":-1.2,"b":-1,"c":7.5,"l":7.4,"h":7.6,"q":1,"ql":0.98,"qh":1.022},
{"o":"D","s":"o","a":-1.2,"b":-1,"r":0.946,"rl":0.925,"rh":0.967},
{"o":"D","s":"b","a":-1.2,"b":-1,"r":0.877,"rl":0.869,"rh":0.885},
{"o":"D","s":"r","a":-1,"b":-0.8,"c":6.27,"l":5.96,"h":6.58,"q":0.805,"ql":0.77,"qh":0.85},
{"o":"D","s":"p","a":-1,"b":-0.8,"c":7.88,"l":7.76,"h":8,"q":1.006,"ql":0.985,"qh":1.022,"r":1,"rl":0.975,"rh":1.025},
{"o":"D","s":"g","a":-1,"b":-0.8,"c":7.83,"l":7.73,"h":7.93,"q":1,"ql":0.982,"qh":1.025},
{"o":"D","s":"o","a":-1,"b":-0.8,"r":0.943,"rl":0.921,"rh":0.965},
{"o":"D","s":"b","a":-1,"b":-0.8,"r":0.87,"rl":0.862,"rh":0.878},
{"o":"D","s":"r","a":-0.8,"b":-0.6,"c":6.42,"l":6.1,"h":6.74,"q":0.795,"ql":0.76,"qh":0.84},
{"o":"D","s":"p","a":-0.8,"b":-0.6,"c":8.13,"l":8.01,"h":8.25,"q":0.993,"ql":0.972,"qh":1.01,"r":1,"rl":0.975,"rh":1.025},
{"o":"D","s":"g","a":-0.8,"b":-0.6,"c":8.19,"l":8.09,"h":8.29,"q":1,"ql":0.98,"qh":1.025},
{"o":"D","s":"o","a":-0.8,"b":-0.6,"r":0.94,"rl":0.917,"rh":0.963},
{"o":"D","s":"b","a":-0.8,"b":-0.6,"r":0.865,"rl":0.857,"rh":0.873},
{"o":"D","s":"r","a":-0.6,"b":-0.4,"c":6.5,"l":6.18,"h":6.83,"q":0.79,"ql":0.76,"qh":0.83},
{"o":"D","s":"p","a":-0.6,"b":-0.4,"c":8.19,"l":8.07,"h":8.31,"q":0.993,"ql":0.972,"qh":1.01,"r":1,"rl":0.974,"rh":1.026},
{"o":"D","s":"g","a":-0.6,"b":-0.4,"c":8.25,"l":8.15,"h":8.35,"q":1,"ql":0.978,"qh":1.025},
{"o":"D","s":"o","a":-0.6,"b":-0.4,"r":0.938,"rl":0.914,"rh":0.962},
{"o":"D","s":"b","a":-0.6,"b":-0.4,"r":0.862,"rl":0.854,"rh":0.87},
{"o":"D","s":"r","a":-0.4,"b":-0.2,"c":6.52,"l":6.19,"h":6.85,"q":0.795,"ql":0.76,"qh":0.845},
{"o":"D","s":"p","a":-0.4,"b":-0.2,"c":8.4,"l":8.28,"h":8.52,"q":1.018,"ql":0.995,"qh":1.045,"r":1,"rl":0.974,"rh":1.026},
{"o":"D","s":"g","a":-0.4,"b":-0.2,"c":8.25,"l":8.15,"h":8.35,"q":1,"ql":0.98,"qh":1.028},
{"o":"D","s":"o","a":-0.4,"b":-0.2,"r":0.936,"rl":0.912,"rh":0.96},
{"o":"D","s":"b","a":-0.4,"b":-0.2,"r":0.858,"rl":0.85,"rh":0.866},
{"o":"D","s":"r","a":-0.2,"b":0,"c":6.53,"l":6.2,"h":6.86,"q":0.8,"ql":0.765,"qh":0.852},
{"o":"D","s":"p","a":-0.2,"b":0,"c":8.38,"l":8.26,"h":8.5,"q":1.022,"ql":1,"qh":1.048,"r":1,"rl":0.974,"rh":1.026},
{"o":"D","s":"g","a":-0.2,"b":0,"c":8.2,"l":8.1,"h":8.3,"q":1,"ql":0.982,"qh":1.022},
{"o":"D","s":"o","a":-0.2,"b":0,"r":0.935,"rl":0.911,"rh":0.959},
{"o":"D","s":"b","a":-0.2,"b":0,"r":0.856,"rl":0.848,"rh":0.864},
{"o":"D","s":"r","a":0,"b":0.2,"c":6.53,"l":6.2,"h":6.86,"q":0.81,"ql":0.77,"qh":0.855},
{"o":"D","s":"p","a":0,"b":0.2,"c":8.42,"l":8.3,"h":8.54,"q":1.033,"ql":1.01,"qh":1.058,"r":1,"rl":0.974,"rh":1.026},
{"o":"D","s":"g","a":0,"b":0.2,"c":8.15,"l":8.05,"h":8.25,"q":1,"ql":0.978,"qh":1.025},
{"o":"D","s":"o","a":0,"b":0.2,"r":0.935,"rl":0.911,"rh":0.959},
{"o":"D","s":"b","a":0,"b":0.2,"r":0.857,"rl":0.849,"rh":0.865},
{"o":"D","s":"r","a":0.2,"b":0.4,"c":6.5,"l":6.18,"h":6.83,"q":0.8,"ql":0.765,"qh":0.845},
{"o":"D","s":"p","a":0.2,"b":0.4,"c":8.34,"l":8.22,"h":8.46,"q":1.017,"ql":0.99,"qh":1.04,"r":1,"rl":0.974,"rh":1.026},
{"o":"D","s":"g","a":0.2,"b":0.4,"c":8.2,"l":8.1,"h":8.3,"q":1,"ql":0.98,"qh":1.028},
{"o":"D","s":"o","a":0.2,"b":0.4,"r":0.937,"rl":0.913,"rh":0.961},
{"o":"D","s":"b","a":0.2,"b":0.4,"r":0.859,"rl":0.851,"rh":0.867},
{"o":"D","s":"r","a":0.4,"b":0.6,"c":6.45,"l":6.13,"h":6.77,"q":0.8,"ql":0.765,"qh":0.845},
{"o":"D","s":"p","a":0.4,"b":0.6,"c":8.32,"l":8.2,"h":8.44,"q":1.015,"ql":0.99,"qh":1.04,"r":1,"rl":0.975,"rh":1.025},
{"o":"D","s":"g","a":0.4,"b":0.6,"c":8.2,"l":8.1,"h":8.3,"q":1,"ql":0.98,"qh":1.025},
{"o":"D","s":"o","a":0.4,"b":0.6,"r":0.938,"rl":0.914,"rh":0.962},
{"o":"D","s":"b","a":0.4,"b":0.6,"r":0.863,"rl":0.855,"rh":0.871},
{"o":"D","s":"r","a":0.6,"b":0.8,"c":6.4,"l":6.08,"h":6.72,"q":0.8,"ql":0.765,"qh":0.843},
{"o":"D","s":"p","a":0.6,"b":0.8,"c":8.04,"l":7.92,"h":8.16,"q":0.999,"ql":0.977,"qh":1.025,"r":1,"rl":0.975,"rh":1.025},
{"o":"D","s":"g","a":0.6,"b":0.8,"c":8.05,"l":7.95,"h":8.15,"q":1,"ql":0.982,"qh":1.022},
{"o":"D","s":"o","a":0.6,"b":0.8,"r":0.94,"rl":0.917,"rh":0.963},
{"o":"D","s":"b","a":0.6,"b":0.8,"r":0.868,"rl":0.86,"rh":0.876},
{"o":"D","s":"r","a":0.8,"b":1,"c":6.27,"l":5.96,"h":6.58,"q":0.795,"ql":0.76,"qh":0.84},
{"o":"D","s":"p","a":0.8,"b":1,"c":7.83,"l":7.71,"h":7.95,"q":1.001,"ql":0.98,"qh":1.025,"r":1,"rl":0.975,"rh":1.025},
{"o":"D","s":"g","a":0.8,"b":1,"c":7.82,"l":7.72,"h":7.92,"q":1,"ql":0.978,"qh":1.028},
{"o":"D","s":"o","a":0.8,"b":1,"r":0.943,"rl":0.921,"rh":0.965},
{"o":"D","s":"b","a":0.8,"b":1,"r":0.876,"rl":0.868,"rh":0.884},
{"o":"D","s":"r","a":1,"b":1.2,"c":6.15,"l":5.84,"h":6.46,"q":0.81,"ql":0.775,"qh":0.857},
{"o":"D","s":"p","a":1,"b":1.2,"c":7.49,"l":7.37,"h":7.61,"q":0.999,"ql":0.98,"qh":1.02,"r":1,"rl":0.976,"rh":1.024},
{"o":"D","s":"g","a":1,"b":1.2,"c":7.5,"l":7.4,"h":7.6,"q":1,"ql":0.98,"qh":1.025},
{"o":"D","s":"o","a":1,"b":1.2,"r":0.946,"rl":0.925,"rh":0.967},
{"o":"D","s":"b","a":1,"b":1.2,"r":0.881,"rl":0.873,"rh":0.889},
{"o":"D","s":"r","a":1.2,"b":1.4,"c":5.97,"l":5.67,"h":6.27,"q":0.812,"ql":0.775,"qh":0.863},
{"o":"D","s":"p","a":1.2,"b":1.4,"c":7.19,"l":7.07,"h":7.31,"q":0.996,"ql":0.975,"qh":1.015,"r":1,"rl":0.977,"rh":1.023},
{"o":"D","s":"g","a":1.2,"b":1.4,"c":7.22,"l":7.12,"h":7.32,"q":1,"ql":0.982,"qh":1.022},
{"o":"D","s":"o","a":1.2,"b":1.4,"r":0.95,"rl":0.93,"rh":0.97},
{"o":"D","s":"b","a":1.2,"b":1.4,"r":0.892,"rl":0.884,"rh":0.9},
{"o":"D","s":"r","a":1.4,"b":1.6,"c":5.73,"l":5.44,"h":6.02,"q":0.838,"ql":0.79,"qh":0.89},
{"o":"D","s":"p","a":1.4,"b":1.6,"c":6.84,"l":6.72,"h":6.96,"q":1.018,"ql":0.995,"qh":1.04,"r":1,"rl":0.978,"rh":1.022},
{"o":"D","s":"g","a":1.4,"b":1.6,"c":6.72,"l":6.62,"h":6.82,"q":1,"ql":0.98,"qh":1.02},
{"o":"D","s":"o","a":1.4,"b":1.6,"r":0.955,"rl":0.937,"rh":0.973},
{"o":"D","s":"b","a":1.4,"b":1.6,"r":0.9,"rl":0.892,"rh":0.908},
{"o":"D","s":"r","a":1.6,"b":1.8,"c":5.43,"l":5.16,"h":5.7,"q":0.842,"ql":0.8,"qh":0.897},
{"o":"D","s":"p","a":1.6,"b":1.8,"c":6.51,"l":6.39,"h":6.63,"q":1.01,"ql":0.99,"qh":1.032,"r":1,"rl":0.98,"rh":1.02},
{"o":"D","s":"g","a":1.6,"b":1.8,"c":6.45,"l":6.35,"h":6.55,"q":1,"ql":0.982,"qh":1.025},
{"o":"D","s":"o","a":1.6,"b":1.8,"r":0.96,"rl":0.944,"rh":0.976},
{"o":"D","s":"b","a":1.6,"b":1.8,"r":0.913,"rl":0.905,"rh":0.921},
{"o":"D","s":"r","a":1.8,"b":2,"c":4.95,"l":4.7,"h":5.2,"q":0.842,"ql":0.8,"qh":0.895},
{"o":"D","s":"p","a":1.8,"b":2,"c":5.87,"l":5.75,"h":5.99,"q":0.999,"ql":0.98,"qh":1.02,"r":1,"rl":0.982,"rh":1.018},
{"o":"D","s":"g","a":1.8,"b":2,"c":5.88,"l":5.78,"h":5.98,"q":1,"ql":0.985,"qh":1.02},
{"o":"D","s":"o","a":1.8,"b":2,"r":0.963,"rl":0.949,"rh":0.977},
{"o":"D","s":"b","a":1.8,"b":2,"r":0.924,"rl":0.916,"rh":0.932},
{"o":"D","s":"r","a":2,"b":2.2,"c":4.58,"l":4.35,"h":4.81,"q":0.857,"ql":0.81,"qh":0.915},
{"o":"D","s":"p","a":2,"b":2.2,"c":5.32,"l":5.2,"h":5.44,"q":0.999,"ql":0.985,"qh":1.02,"r":1,"rl":0.985,"rh":1.015},
{"o":"D","s":"g","a":2,"b":2.2,"c":5.33,"l":5.23,"h":5.43,"q":1,"ql":0.982,"qh":1.022},
{"o":"D","s":"o","a":2,"b":2.2,"r":0.967,"rl":0.955,"rh":0.979},
{"o":"D","s":"b","a":2,"b":2.2,"r":0.935,"rl":0.926,"rh":0.944},
{"o":"D","s":"r","a":2.2,"b":2.4,"c":3.98,"l":3.78,"h":4.18,"q":0.891,"ql":0.845,"qh":0.953},
{"o":"D","s":"p","a":2.2,"b":2.4,"c":4.64,"l":4.52,"h":4.76,"q":1.037,"ql":1.015,"qh":1.053,"r":1,"rl":0.988,"rh":1.012},
{"o":"D","s":"g","a":2.2,"b":2.4,"c":4.47,"l":4.37,"h":4.57,"q":1,"ql":0.985,"qh":1.02},
{"o":"D","s":"o","a":2.2,"b":2.4,"r":0.972,"rl":0.961,"rh":0.983},
{"o":"D","s":"b","a":2.2,"b":2.4,"r":0.946,"rl":0.937,"rh":0.955},
{"o":"D","s":"r","a":2.4,"b":2.6,"c":3.32,"l":3.15,"h":3.49,"q":0.865,"ql":0.82,"qh":0.933},
{"o":"D","s":"p","a":2.4,"b":2.6,"c":3.75,"l":3.63,"h":3.87,"q":0.994,"ql":0.98,"qh":1.008,"r":1,"rl":0.99,"rh":1.01},
{"o":"D","s":"g","a":2.4,"b":2.6,"c":3.77,"l":3.67,"h":3.87,"q":1,"ql":0.985,"qh":1.018},
{"o":"D","s":"o","a":2.4,"b":2.6,"r":0.976,"rl":0.966,"rh":0.986},
{"o":"D","s":"b","a":2.4,"b":2.6,"r":0.955,"rl":0.945,"rh":0.965},
{"o":"D","s":"r","a":2.6,"b":2.8,"c":2.6,"l":2.47,"h":2.73,"q":0.857,"ql":0.81,"qh":0.925},
{"o":"D","s":"p","a":2.6,"b":2.8,"c":2.92,"l":2.8,"h":3.04,"q":0.977,"ql":0.965,"qh":0.99,"r":1,"rl":0.992,"rh":1.008},
{"o":"D","s":"g","a":2.6,"b":2.8,"c":2.99,"l":2.89,"h":3.09,"q":1,"ql":0.985,"qh":1.02},
{"o":"D","s":"o","a":2.6,"b":2.8,"r":0.98,"rl":0.971,"rh":0.989},
{"o":"D","s":"b","a":2.6,"b":2.8,"r":0.964,"rl":0.954,"rh":0.974},
{"o":"D","s":"r","a":2.8,"b":3,"c":1.94,"l":1.84,"h":2.04,"q":0.853,"ql":0.805,"qh":0.918},
{"o":"D","s":"p","a":2.8,"b":3,"c":2.11,"l":1.99,"h":2.23,"q":0.97,"ql":0.962,"qh":0.98,"r":1,"rl":0.992,"rh":1.008},
{"o":"D","s":"g","a":2.8,"b":3,"c":2.18,"l":2.08,"h":2.28,"q":1,"ql":0.987,"qh":1.02},
{"o":"D","s":"o","a":2.8,"b":3,"r":0.984,"rl":0.976,"rh":0.992},
{"o":"D","s":"b","a":2.8,"b":3,"r":0.968,"rl":0.957,"rh":0.979}
]},
"spacing":25,
"resolve":{"scale":{"x":"independent","y":"independent","color":"independent"},"axis":{"x":"independent","y":"independent"},"legend":{"color":"independent"}},
"vconcat":[
{"hconcat":[
 {"vconcat":[
  {"width":444,"height":272,"transform":[{"filter":"datum.o=='A'&&isValid(datum.c)"}],"resolve":{"axis":{"x":"independent","y":"independent"}},"layer":[
   {"mark":{"type":"rect","clip":true,"strokeWidth":0},"encoding":{"x":{"field":"a","type":"quantitative","scale":{"domain":[60,120],"nice":false,"zero":false},"axis":{"values":[60,70,80,90,100,110,120],"labels":false,"title":null}},"x2":{"field":"b"},"y":{"field":"l","type":"quantitative","scale":{"type":"log","domain":[0.01,50],"nice":false},"axis":{"values":[0.01,0.1,1,10],"labelExpr":"'10'+replace(replace(replace(replace(replace(''+round(log(datum.value)/LN10),'-','⁻'),'0','⁰'),'1','¹'),'2','²'),'3','³')","title":"dσ / dmₑ₊ₑ₋  [fb/GeV]"}},"y2":{"field":"h"},"color":{"field":"s","type":"nominal","scale":{"domain":["r","p","g","o","b"],"range":["#e41a1c","#984ea3","#4daf4a","#ff7f00","#a65628"]},"legend":{"orient":"top-left","offset":5,"values":["r","p","g"],"title":null,"labelExpr":"datum.label=='r'?'MɪNLO′':datum.label=='p'?'nNNLO+PS (MiNNLOₚₛ)':datum.label=='g'?'nNNLO (MATRIX)':datum.label=='o'?'NNLO+PS':'NNLOqq̄+PS'"}},"fillOpacity":{"condition":[{"test":"datum.s=='r'","value":0.3}],"value":0.15}}},
   {"mark":{"type":"rect","clip":true,"filled":false,"strokeWidth":1},"encoding":{"x":{"field":"a","type":"quantitative","scale":{"domain":[60,120],"nice":false,"zero":false},"axis":null},"x2":{"field":"b"},"y":{"field":"l","type":"quantitative","scale":{"type":"log","domain":[0.01,50],"nice":false},"axis":null},"y2":{"field":"h"},"color":{"field":"s","type":"nominal","scale":{"domain":["r","p","g","o","b"],"range":["#e41a1c","#984ea3","#4daf4a","#ff7f00","#a65628"]}}}},
   {"transform":[{"fold":["a","b"],"as":["e","a"]}],"mark":{"type":"line","clip":true,"strokeWidth":2.8},"encoding":{"x":{"field":"a","type":"quantitative","scale":{"domain":[60,120],"nice":false,"zero":false},"axis":null},"y":{"field":"c","type":"quantitative","scale":{"type":"log","domain":[0.01,50],"nice":false},"axis":null},"color":{"field":"s","type":"nominal","scale":{"domain":["r","p","g","o","b"],"range":["#e41a1c","#984ea3","#4daf4a","#ff7f00","#a65628"]}},"order":[{"field":"a","type":"quantitative"},{"field":"e","type":"nominal","sort":"descending"}]}},
   {"mark":{"type":"point","opacity":0},"encoding":{"x":{"field":"a","type":"quantitative","scale":{"domain":[60,120],"nice":false,"zero":false},"axis":{"orient":"top","values":[60,62,64,66,68,70,72,74,76,78,80,82,84,86,88,90,92,94,96,98,100,102,104,106,108,110,112,114,116,118,120],"labels":false,"grid":false,"tickSize":-4,"title":null,"minExtent":0,"maxExtent":0}},"y":{"field":"c","type":"quantitative","scale":{"type":"log","domain":[0.01,50],"nice":false},"axis":{"orient":"right","values":[0.01,0.02,0.03,0.04,0.05,0.06,0.07,0.08,0.09,0.1,0.2,0.3,0.4,0.5,0.6,0.7,0.8,0.9,1,2,3,4,5,6,7,8,9,10,20,30,40],"labels":false,"grid":false,"tickSize":-4,"title":null,"minExtent":0,"maxExtent":0}}}},
   {"mark":{"type":"point","opacity":0},"encoding":{"x":{"field":"a","type":"quantitative","scale":{"domain":[60,120],"nice":false,"zero":false},"axis":{"orient":"bottom","values":[62,64,66,68,72,74,76,78,82,84,86,88,92,94,96,98,102,104,106,108,112,114,116,118],"labels":false,"grid":false,"tickSize":-3,"title":null,"minExtent":0,"maxExtent":0}},"y":{"field":"c","type":"quantitative","scale":{"type":"log","domain":[0.01,50],"nice":false},"axis":{"orient":"left","values":[0.02,0.03,0.04,0.05,0.06,0.07,0.08,0.09,0.2,0.3,0.4,0.5,0.6,0.7,0.8,0.9,2,3,4,5,6,7,8,9,20,30,40],"labels":false,"grid":false,"tickSize":-3,"title":null,"minExtent":0,"maxExtent":0}}}}
  ]},
  {"width":444,"height":136,"transform":[{"filter":"datum.o=='A'&&isValid(datum.q)"}],"resolve":{"axis":{"x":"independent","y":"independent"}},"layer":[
   {"mark":{"type":"rect","clip":true,"strokeWidth":0},"encoding":{"x":{"field":"a","type":"quantitative","scale":{"domain":[60,120],"nice":false,"zero":false},"axis":{"values":[60,70,80,90,100,110,120],"labels":false,"title":null}},"x2":{"field":"b"},"y":{"field":"ql","type":"quantitative","scale":{"domain":[0.8,1.2],"nice":false,"zero":false},"axis":{"values":[0.8,0.9,1,1.1,1.2],"format":".1f","title":["Ratio to","nNNLO"]}},"y2":{"field":"qh"},"color":{"field":"s","type":"nominal","scale":{"domain":["r","p","g","o","b"],"range":["#e41a1c","#984ea3","#4daf4a","#ff7f00","#a65628"]},"legend":null},"fillOpacity":{"condition":[{"test":"datum.s=='r'","value":0.25}],"value":0.15}}},
   {"mark":{"type":"rect","clip":true,"filled":false,"strokeWidth":1},"encoding":{"x":{"field":"a","type":"quantitative","scale":{"domain":[60,120],"nice":false,"zero":false},"axis":null},"x2":{"field":"b"},"y":{"field":"ql","type":"quantitative","scale":{"domain":[0.8,1.2],"nice":false,"zero":false},"axis":null},"y2":{"field":"qh"},"color":{"field":"s","type":"nominal","scale":{"domain":["r","p","g","o","b"],"range":["#e41a1c","#984ea3","#4daf4a","#ff7f00","#a65628"]},"legend":null}}},
   {"transform":[{"fold":["a","b"],"as":["e","a"]}],"mark":{"type":"line","clip":true,"strokeWidth":2.8},"encoding":{"x":{"field":"a","type":"quantitative","scale":{"domain":[60,120],"nice":false,"zero":false},"axis":null},"y":{"field":"q","type":"quantitative","scale":{"domain":[0.8,1.2],"nice":false,"zero":false},"axis":null},"color":{"field":"s","type":"nominal","scale":{"domain":["r","p","g","o","b"],"range":["#e41a1c","#984ea3","#4daf4a","#ff7f00","#a65628"]},"legend":null},"order":[{"field":"a","type":"quantitative"},{"field":"e","type":"nominal","sort":"descending"}]}},
   {"mark":{"type":"point","opacity":0},"encoding":{"x":{"field":"a","type":"quantitative","scale":{"domain":[60,120],"nice":false,"zero":false},"axis":{"orient":"top","values":[60,62,64,66,68,70,72,74,76,78,80,82,84,86,88,90,92,94,96,98,100,102,104,106,108,110,112,114,116,118,120],"labels":false,"grid":false,"tickSize":-4,"title":null,"minExtent":0,"maxExtent":0}},"y":{"field":"q","type":"quantitative","scale":{"domain":[0.8,1.2],"nice":false,"zero":false},"axis":{"orient":"right","values":[0.82,0.84,0.86,0.88,0.9,0.92,0.94,0.96,0.98,1,1.02,1.04,1.06,1.08,1.1,1.12,1.14,1.16,1.18],"labels":false,"grid":false,"tickSize":-4,"title":null,"minExtent":0,"maxExtent":0}}}},
   {"mark":{"type":"point","opacity":0},"encoding":{"x":{"field":"a","type":"quantitative","scale":{"domain":[60,120],"nice":false,"zero":false},"axis":{"orient":"bottom","values":[62,64,66,68,72,74,76,78,82,84,86,88,92,94,96,98,102,104,106,108,112,114,116,118],"labels":false,"grid":false,"tickSize":-3,"title":null,"minExtent":0,"maxExtent":0}},"y":{"field":"q","type":"quantitative","scale":{"domain":[0.8,1.2],"nice":false,"zero":false},"axis":{"orient":"left","values":[0.82,0.84,0.86,0.88,0.92,0.94,0.96,0.98,1.02,1.04,1.06,1.08,1.12,1.14,1.16,1.18],"labels":false,"grid":false,"tickSize":-3,"title":null,"minExtent":0,"maxExtent":0}}}}
  ]},
  {"width":444,"height":136,"transform":[{"filter":"datum.o=='A'&&isValid(datum.r)"}],"resolve":{"axis":{"x":"independent","y":"independent"}},"layer":[
   {"mark":{"type":"rect","clip":true,"strokeWidth":0},"encoding":{"x":{"field":"a","type":"quantitative","scale":{"domain":[60,120],"nice":false,"zero":false},"axis":{"values":[60,70,80,90,100,110,120],"format":"d","title":"mₑ₊ₑ₋  [GeV]"}},"x2":{"field":"b"},"y":{"field":"rl","type":"quantitative","scale":{"domain":[0.8,1.1],"nice":false,"zero":false},"axis":{"values":[0.8,0.9,1,1.1],"format":".1f","title":["Ratio to","nNNLO+PS"]}},"y2":{"field":"rh"},"color":{"field":"s","type":"nominal","scale":{"domain":["r","p","g","o","b"],"range":["#e41a1c","#984ea3","#4daf4a","#ff7f00","#a65628"]},"legend":{"orient":"top-right","direction":"horizontal","offset":6,"values":["o","b"],"title":null,"columnPadding":22,"labelExpr":"datum.label=='r'?'MɪNLO′':datum.label=='p'?'nNNLO+PS (MiNNLOₚₛ)':datum.label=='g'?'nNNLO (MATRIX)':datum.label=='o'?'NNLO+PS':'NNLOqq̄+PS'"}},"fillOpacity":{"condition":[{"test":"datum.s=='o'||datum.s=='b'","value":0.6}],"value":0.12}}},
   {"mark":{"type":"rect","clip":true,"filled":false,"strokeWidth":1},"encoding":{"x":{"field":"a","type":"quantitative","scale":{"domain":[60,120],"nice":false,"zero":false},"axis":null},"x2":{"field":"b"},"y":{"field":"rl","type":"quantitative","scale":{"domain":[0.8,1.1],"nice":false,"zero":false},"axis":null},"y2":{"field":"rh"},"color":{"field":"s","type":"nominal","scale":{"domain":["r","p","g","o","b"],"range":["#e41a1c","#984ea3","#4daf4a","#ff7f00","#a65628"]}}}},
   {"transform":[{"fold":["a","b"],"as":["e","a"]}],"mark":{"type":"line","clip":true,"strokeWidth":2.8},"encoding":{"x":{"field":"a","type":"quantitative","scale":{"domain":[60,120],"nice":false,"zero":false},"axis":null},"y":{"field":"r","type":"quantitative","scale":{"domain":[0.8,1.1],"nice":false,"zero":false},"axis":null},"color":{"field":"s","type":"nominal","scale":{"domain":["r","p","g","o","b"],"range":["#e41a1c","#984ea3","#4daf4a","#ff7f00","#a65628"]}},"order":[{"field":"a","type":"quantitative"},{"field":"e","type":"nominal","sort":"descending"}]}},
   {"mark":{"type":"point","opacity":0},"encoding":{"x":{"field":"a","type":"quantitative","scale":{"domain":[60,120],"nice":false,"zero":false},"axis":{"orient":"top","values":[60,62,64,66,68,70,72,74,76,78,80,82,84,86,88,90,92,94,96,98,100,102,104,106,108,110,112,114,116,118,120],"labels":false,"grid":false,"tickSize":-4,"title":null,"minExtent":0,"maxExtent":0}},"y":{"field":"r","type":"quantitative","scale":{"domain":[0.8,1.1],"nice":false,"zero":false},"axis":{"orient":"right","values":[0.82,0.84,0.86,0.88,0.9,0.92,0.94,0.96,0.98,1,1.02,1.04,1.06,1.08],"labels":false,"grid":false,"tickSize":-4,"title":null,"minExtent":0,"maxExtent":0}}}},
   {"mark":{"type":"point","opacity":0},"encoding":{"x":{"field":"a","type":"quantitative","scale":{"domain":[60,120],"nice":false,"zero":false},"axis":{"orient":"bottom","values":[62,64,66,68,72,74,76,78,82,84,86,88,92,94,96,98,102,104,106,108,112,114,116,118],"labels":false,"grid":false,"tickSize":-3,"title":null,"minExtent":0,"maxExtent":0}},"y":{"field":"r","type":"quantitative","scale":{"domain":[0.8,1.1],"nice":false,"zero":false},"axis":{"orient":"left","values":[0.82,0.84,0.86,0.88,0.92,0.94,0.96,0.98,1.02,1.04,1.06,1.08],"labels":false,"grid":false,"tickSize":-3,"title":null,"minExtent":0,"maxExtent":0}}}}
  ]}
 ],"spacing":11,"bounds":"flush","resolve":{"scale":{"x":"independent","y":"independent","color":"independent"},"axis":{"x":"independent","y":"independent"},"legend":{"color":"independent"}}},
 {"vconcat":[
  {"width":441,"height":272,"transform":[{"filter":"datum.o=='B'&&isValid(datum.c)"}],"resolve":{"axis":{"x":"independent","y":"independent"}},"layer":[
   {"mark":{"type":"rect","clip":true,"strokeWidth":0},"encoding":{"x":{"field":"a","type":"quantitative","scale":{"domain":[100,1000],"nice":false,"zero":false},"axis":{"values":[100,200,300,400,500,600,700,800,900,1000],"labels":false,"title":null}},"x2":{"field":"b"},"y":{"field":"l","type":"quantitative","scale":{"type":"log","domain":[0.00088,0.417],"nice":false},"axis":{"values":[0.001,0.01,0.1],"labelExpr":"'10'+replace(replace(replace(replace(replace(''+round(log(datum.value)/LN10),'-','⁻'),'0','⁰'),'1','¹'),'2','²'),'3','³')","title":"dσ / dm₄ℓ  [fb/GeV]"}},"y2":{"field":"h"},"color":{"field":"s","type":"nominal","scale":{"domain":["r","p","g","o","b"],"range":["#e41a1c","#984ea3","#4daf4a","#ff7f00","#a65628"]},"legend":{"orient":"top-right","offset":6,"values":["r","p","g"],"title":null,"labelExpr":"datum.label=='r'?'MɪNLO′':datum.label=='p'?'nNNLO+PS (MiNNLOₚₛ)':datum.label=='g'?'nNNLO (MATRIX)':datum.label=='o'?'NNLO+PS':'NNLOqq̄+PS'"}},"fillOpacity":{"condition":[{"test":"datum.s=='r'","value":0.3}],"value":0.15}}},
   {"mark":{"type":"rect","clip":true,"filled":false,"strokeWidth":1},"encoding":{"x":{"field":"a","type":"quantitative","scale":{"domain":[100,1000],"nice":false,"zero":false},"axis":null},"x2":{"field":"b"},"y":{"field":"l","type":"quantitative","scale":{"type":"log","domain":[0.00088,0.417],"nice":false},"axis":null},"y2":{"field":"h"},"color":{"field":"s","type":"nominal","scale":{"domain":["r","p","g","o","b"],"range":["#e41a1c","#984ea3","#4daf4a","#ff7f00","#a65628"]}}}},
   {"transform":[{"fold":["a","b"],"as":["e","a"]}],"mark":{"type":"line","clip":true,"strokeWidth":2.8},"encoding":{"x":{"field":"a","type":"quantitative","scale":{"domain":[100,1000],"nice":false,"zero":false},"axis":null},"y":{"field":"c","type":"quantitative","scale":{"type":"log","domain":[0.00088,0.417],"nice":false},"axis":null},"color":{"field":"s","type":"nominal","scale":{"domain":["r","p","g","o","b"],"range":["#e41a1c","#984ea3","#4daf4a","#ff7f00","#a65628"]}},"order":[{"field":"a","type":"quantitative"},{"field":"e","type":"nominal","sort":"descending"}]}},
   {"mark":{"type":"point","opacity":0},"encoding":{"x":{"field":"a","type":"quantitative","scale":{"domain":[100,1000],"nice":false,"zero":false},"axis":{"orient":"top","values":[100,120,140,160,180,200,220,240,260,280,300,320,340,360,380,400,420,440,460,480,500,520,540,560,580,600,620,640,660,680,700,720,740,760,780,800,820,840,860,880,900,920,940,960,980,1000],"labels":false,"grid":false,"tickSize":-4,"title":null,"minExtent":0,"maxExtent":0}},"y":{"field":"c","type":"quantitative","scale":{"type":"log","domain":[0.00088,0.417],"nice":false},"axis":{"orient":"right","values":[0.0009,0.001,0.002,0.003,0.004,0.005,0.006,0.007,0.008,0.009,0.01,0.02,0.03,0.04,0.05,0.06,0.07,0.08,0.09,0.1,0.2,0.3,0.4],"labels":false,"grid":false,"tickSize":-4,"title":null,"minExtent":0,"maxExtent":0}}}},
   {"mark":{"type":"point","opacity":0},"encoding":{"x":{"field":"a","type":"quantitative","scale":{"domain":[100,1000],"nice":false,"zero":false},"axis":{"orient":"bottom","values":[120,140,160,180,220,240,260,280,320,340,360,380,420,440,460,480,520,540,560,580,620,640,660,680,720,740,760,780,820,840,860,880,920,940,960,980],"labels":false,"grid":false,"tickSize":-3,"title":null,"minExtent":0,"maxExtent":0}},"y":{"field":"c","type":"quantitative","scale":{"type":"log","domain":[0.00088,0.417],"nice":false},"axis":{"orient":"left","values":[0.0009,0.002,0.003,0.004,0.005,0.006,0.007,0.008,0.009,0.02,0.03,0.04,0.05,0.06,0.07,0.08,0.09,0.2,0.3,0.4],"labels":false,"grid":false,"tickSize":-3,"title":null,"minExtent":0,"maxExtent":0}}}}
  ]},
  {"width":441,"height":136,"transform":[{"filter":"datum.o=='B'&&isValid(datum.q)"}],"resolve":{"axis":{"x":"independent","y":"independent"}},"layer":[
   {"mark":{"type":"rect","clip":true,"strokeWidth":0},"encoding":{"x":{"field":"a","type":"quantitative","scale":{"domain":[100,1000],"nice":false,"zero":false},"axis":{"values":[100,200,300,400,500,600,700,800,900,1000],"labels":false,"title":null}},"x2":{"field":"b"},"y":{"field":"ql","type":"quantitative","scale":{"domain":[0.8,1.2],"nice":false,"zero":false},"axis":{"values":[0.8,0.9,1,1.1,1.2],"format":".1f","title":["Ratio to","nNNLO"]}},"y2":{"field":"qh"},"color":{"field":"s","type":"nominal","scale":{"domain":["r","p","g","o","b"],"range":["#e41a1c","#984ea3","#4daf4a","#ff7f00","#a65628"]},"legend":null},"fillOpacity":{"condition":[{"test":"datum.s=='r'","value":0.25}],"value":0.15}}},
   {"mark":{"type":"rect","clip":true,"filled":false,"strokeWidth":1},"encoding":{"x":{"field":"a","type":"quantitative","scale":{"domain":[100,1000],"nice":false,"zero":false},"axis":null},"x2":{"field":"b"},"y":{"field":"ql","type":"quantitative","scale":{"domain":[0.8,1.2],"nice":false,"zero":false},"axis":null},"y2":{"field":"qh"},"color":{"field":"s","type":"nominal","scale":{"domain":["r","p","g","o","b"],"range":["#e41a1c","#984ea3","#4daf4a","#ff7f00","#a65628"]},"legend":null}}},
   {"transform":[{"fold":["a","b"],"as":["e","a"]}],"mark":{"type":"line","clip":true,"strokeWidth":2.8},"encoding":{"x":{"field":"a","type":"quantitative","scale":{"domain":[100,1000],"nice":false,"zero":false},"axis":null},"y":{"field":"q","type":"quantitative","scale":{"domain":[0.8,1.2],"nice":false,"zero":false},"axis":null},"color":{"field":"s","type":"nominal","scale":{"domain":["r","p","g","o","b"],"range":["#e41a1c","#984ea3","#4daf4a","#ff7f00","#a65628"]},"legend":null},"order":[{"field":"a","type":"quantitative"},{"field":"e","type":"nominal","sort":"descending"}]}},
   {"mark":{"type":"point","opacity":0},"encoding":{"x":{"field":"a","type":"quantitative","scale":{"domain":[100,1000],"nice":false,"zero":false},"axis":{"orient":"top","values":[100,120,140,160,180,200,220,240,260,280,300,320,340,360,380,400,420,440,460,480,500,520,540,560,580,600,620,640,660,680,700,720,740,760,780,800,820,840,860,880,900,920,940,960,980,1000],"labels":false,"grid":false,"tickSize":-4,"title":null,"minExtent":0,"maxExtent":0}},"y":{"field":"q","type":"quantitative","scale":{"domain":[0.8,1.2],"nice":false,"zero":false},"axis":{"orient":"right","values":[0.82,0.84,0.86,0.88,0.9,0.92,0.94,0.96,0.98,1,1.02,1.04,1.06,1.08,1.1,1.12,1.14,1.16,1.18],"labels":false,"grid":false,"tickSize":-4,"title":null,"minExtent":0,"maxExtent":0}}}},
   {"mark":{"type":"point","opacity":0},"encoding":{"x":{"field":"a","type":"quantitative","scale":{"domain":[100,1000],"nice":false,"zero":false},"axis":{"orient":"bottom","values":[120,140,160,180,220,240,260,280,320,340,360,380,420,440,460,480,520,540,560,580,620,640,660,680,720,740,760,780,820,840,860,880,920,940,960,980],"labels":false,"grid":false,"tickSize":-3,"title":null,"minExtent":0,"maxExtent":0}},"y":{"field":"q","type":"quantitative","scale":{"domain":[0.8,1.2],"nice":false,"zero":false},"axis":{"orient":"left","values":[0.82,0.84,0.86,0.88,0.92,0.94,0.96,0.98,1.02,1.04,1.06,1.08,1.12,1.14,1.16,1.18],"labels":false,"grid":false,"tickSize":-3,"title":null,"minExtent":0,"maxExtent":0}}}}
  ]},
  {"width":441,"height":136,"transform":[{"filter":"datum.o=='B'&&isValid(datum.r)"}],"resolve":{"axis":{"x":"independent","y":"independent"}},"layer":[
   {"mark":{"type":"rect","clip":true,"strokeWidth":0},"encoding":{"x":{"field":"a","type":"quantitative","scale":{"domain":[100,1000],"nice":false,"zero":false},"axis":{"values":[100,200,300,400,500,600,700,800,900,1000],"format":"d","title":"m₄ℓ  [GeV]"}},"x2":{"field":"b"},"y":{"field":"rl","type":"quantitative","scale":{"domain":[0.8,1.1],"nice":false,"zero":false},"axis":{"values":[0.8,0.9,1,1.1],"format":".1f","title":["Ratio to","nNNLO+PS"]}},"y2":{"field":"rh"},"color":{"field":"s","type":"nominal","scale":{"domain":["r","p","g","o","b"],"range":["#e41a1c","#984ea3","#4daf4a","#ff7f00","#a65628"]},"legend":{"orient":"top-right","direction":"horizontal","offset":6,"values":["o","b"],"title":null,"columnPadding":22,"labelExpr":"datum.label=='r'?'MɪNLO′':datum.label=='p'?'nNNLO+PS (MiNNLOₚₛ)':datum.label=='g'?'nNNLO (MATRIX)':datum.label=='o'?'NNLO+PS':'NNLOqq̄+PS'"}},"fillOpacity":{"condition":[{"test":"datum.s=='o'||datum.s=='b'","value":0.6}],"value":0.12}}},
   {"mark":{"type":"rect","clip":true,"filled":false,"strokeWidth":1},"encoding":{"x":{"field":"a","type":"quantitative","scale":{"domain":[100,1000],"nice":false,"zero":false},"axis":null},"x2":{"field":"b"},"y":{"field":"rl","type":"quantitative","scale":{"domain":[0.8,1.1],"nice":false,"zero":false},"axis":null},"y2":{"field":"rh"},"color":{"field":"s","type":"nominal","scale":{"domain":["r","p","g","o","b"],"range":["#e41a1c","#984ea3","#4daf4a","#ff7f00","#a65628"]}}}},
   {"transform":[{"fold":["a","b"],"as":["e","a"]}],"mark":{"type":"line","clip":true,"strokeWidth":2.8},"encoding":{"x":{"field":"a","type":"quantitative","scale":{"domain":[100,1000],"nice":false,"zero":false},"axis":null},"y":{"field":"r","type":"quantitative","scale":{"domain":[0.8,1.1],"nice":false,"zero":false},"axis":null},"color":{"field":"s","type":"nominal","scale":{"domain":["r","p","g","o","b"],"range":["#e41a1c","#984ea3","#4daf4a","#ff7f00","#a65628"]}},"order":[{"field":"a","type":"quantitative"},{"field":"e","type":"nominal","sort":"descending"}]}},
   {"mark":{"type":"point","opacity":0},"encoding":{"x":{"field":"a","type":"quantitative","scale":{"domain":[100,1000],"nice":false,"zero":false},"axis":{"orient":"top","values":[100,120,140,160,180,200,220,240,260,280,300,320,340,360,380,400,420,440,460,480,500,520,540,560,580,600,620,640,660,680,700,720,740,760,780,800,820,840,860,880,900,920,940,960,980,1000],"labels":false,"grid":false,"tickSize":-4,"title":null,"minExtent":0,"maxExtent":0}},"y":{"field":"r","type":"quantitative","scale":{"domain":[0.8,1.1],"nice":false,"zero":false},"axis":{"orient":"right","values":[0.82,0.84,0.86,0.88,0.9,0.92,0.94,0.96,0.98,1,1.02,1.04,1.06,1.08],"labels":false,"grid":false,"tickSize":-4,"title":null,"minExtent":0,"maxExtent":0}}}},
   {"mark":{"type":"point","opacity":0},"encoding":{"x":{"field":"a","type":"quantitative","scale":{"domain":[100,1000],"nice":false,"zero":false},"axis":{"orient":"bottom","values":[120,140,160,180,220,240,260,280,320,340,360,380,420,440,460,480,520,540,560,580,620,640,660,680,720,740,760,780,820,840,860,880,920,940,960,980],"labels":false,"grid":false,"tickSize":-3,"title":null,"minExtent":0,"maxExtent":0}},"y":{"field":"r","type":"quantitative","scale":{"domain":[0.8,1.1],"nice":false,"zero":false},"axis":{"orient":"left","values":[0.82,0.84,0.86,0.88,0.92,0.94,0.96,0.98,1.02,1.04,1.06,1.08],"labels":false,"grid":false,"tickSize":-3,"title":null,"minExtent":0,"maxExtent":0}}}}
  ]}
 ],"spacing":11,"bounds":"flush","resolve":{"scale":{"x":"independent","y":"independent","color":"independent"},"axis":{"x":"independent","y":"independent"},"legend":{"color":"independent"}}}
],"spacing":43,"resolve":{"scale":{"x":"independent","y":"independent","color":"independent"},"axis":{"x":"independent","y":"independent"},"legend":{"color":"independent"}}},
{"hconcat":[
 {"vconcat":[
  {"width":453,"height":277,"transform":[{"filter":"datum.o=='C'&&isValid(datum.c)"}],"resolve":{"axis":{"x":"independent","y":"independent"}},"layer":[
   {"mark":{"type":"rect","clip":true,"strokeWidth":0},"encoding":{"x":{"field":"a","type":"quantitative","scale":{"domain":[-3,3],"nice":false,"zero":false},"axis":{"values":[-3,-2,-1,0,1,2,3],"labels":false,"title":null}},"x2":{"field":"b"},"y":{"field":"l","type":"quantitative","scale":{"domain":[0,10],"nice":false,"zero":false},"axis":{"values":[2,4,6,8,10],"labelFlush":false,"title":"dσ / dyZ₁  [fb]"}},"y2":{"field":"h"},"color":{"field":"s","type":"nominal","scale":{"domain":["r","p","g","o","b"],"range":["#e41a1c","#984ea3","#4daf4a","#ff7f00","#a65628"]},"legend":{"orient":"none","legendX":106,"legendY":210,"values":["r","p","g"],"title":null,"labelExpr":"datum.label=='r'?'MɪNLO′':datum.label=='p'?'nNNLO+PS (MiNNLOₚₛ)':datum.label=='g'?'nNNLO (MATRIX)':datum.label=='o'?'NNLO+PS':'NNLOqq̄+PS'"}},"fillOpacity":{"condition":[{"test":"datum.s=='r'","value":0.3}],"value":0.15}}},
   {"mark":{"type":"rect","clip":true,"filled":false,"strokeWidth":1},"encoding":{"x":{"field":"a","type":"quantitative","scale":{"domain":[-3,3],"nice":false,"zero":false},"axis":null},"x2":{"field":"b"},"y":{"field":"l","type":"quantitative","scale":{"domain":[0,10],"nice":false,"zero":false},"axis":null},"y2":{"field":"h"},"color":{"field":"s","type":"nominal","scale":{"domain":["r","p","g","o","b"],"range":["#e41a1c","#984ea3","#4daf4a","#ff7f00","#a65628"]}}}},
   {"transform":[{"fold":["a","b"],"as":["e","a"]}],"mark":{"type":"line","clip":true,"strokeWidth":2.8},"encoding":{"x":{"field":"a","type":"quantitative","scale":{"domain":[-3,3],"nice":false,"zero":false},"axis":null},"y":{"field":"c","type":"quantitative","scale":{"domain":[0,10],"nice":false,"zero":false},"axis":null},"color":{"field":"s","type":"nominal","scale":{"domain":["r","p","g","o","b"],"range":["#e41a1c","#984ea3","#4daf4a","#ff7f00","#a65628"]}},"order":[{"field":"a","type":"quantitative"},{"field":"e","type":"nominal","sort":"descending"}]}},
   {"mark":{"type":"point","opacity":0},"encoding":{"x":{"field":"a","type":"quantitative","scale":{"domain":[-3,3],"nice":false,"zero":false},"axis":{"orient":"top","values":[-3,-2.8,-2.6,-2.4,-2.2,-2,-1.8,-1.6,-1.4,-1.2,-1,-0.8,-0.6,-0.4,-0.2,0,0.2,0.4,0.6,0.8,1,1.2,1.4,1.6,1.8,2,2.2,2.4,2.6,2.8,3],"labels":false,"grid":false,"tickSize":-4,"title":null,"minExtent":0,"maxExtent":0}},"y":{"field":"c","type":"quantitative","scale":{"domain":[0,10],"nice":false,"zero":false},"axis":{"orient":"right","values":[0.5,1,1.5,2,2.5,3,3.5,4,4.5,5,5.5,6,6.5,7,7.5,8,8.5,9,9.5],"labels":false,"grid":false,"tickSize":-4,"title":null,"minExtent":0,"maxExtent":0}}}},
   {"mark":{"type":"point","opacity":0},"encoding":{"x":{"field":"a","type":"quantitative","scale":{"domain":[-3,3],"nice":false,"zero":false},"axis":{"orient":"bottom","values":[-2.8,-2.6,-2.4,-2.2,-1.8,-1.6,-1.4,-1.2,-0.8,-0.6,-0.4,-0.2,0.2,0.4,0.6,0.8,1.2,1.4,1.6,1.8,2.2,2.4,2.6,2.8],"labels":false,"grid":false,"tickSize":-3,"title":null,"minExtent":0,"maxExtent":0}},"y":{"field":"c","type":"quantitative","scale":{"domain":[0,10],"nice":false,"zero":false},"axis":{"orient":"left","values":[0.5,1,1.5,2.5,3,3.5,4.5,5,5.5,6.5,7,7.5,8.5,9,9.5],"labels":false,"grid":false,"tickSize":-3,"title":null,"minExtent":0,"maxExtent":0}}}}
  ]},
  {"width":453,"height":140,"transform":[{"filter":"datum.o=='C'&&isValid(datum.q)"}],"resolve":{"axis":{"x":"independent","y":"independent"}},"layer":[
   {"mark":{"type":"rect","clip":true,"strokeWidth":0},"encoding":{"x":{"field":"a","type":"quantitative","scale":{"domain":[-3,3],"nice":false,"zero":false},"axis":{"values":[-3,-2,-1,0,1,2,3],"labels":false,"title":null}},"x2":{"field":"b"},"y":{"field":"ql","type":"quantitative","scale":{"domain":[0.8,1.2],"nice":false,"zero":false},"axis":{"values":[0.8,0.9,1,1.1,1.2],"format":".1f","title":["Ratio to","nNNLO"]}},"y2":{"field":"qh"},"color":{"field":"s","type":"nominal","scale":{"domain":["r","p","g","o","b"],"range":["#e41a1c","#984ea3","#4daf4a","#ff7f00","#a65628"]},"legend":null},"fillOpacity":{"condition":[{"test":"datum.s=='r'","value":0.25}],"value":0.15}}},
   {"mark":{"type":"rect","clip":true,"filled":false,"strokeWidth":1},"encoding":{"x":{"field":"a","type":"quantitative","scale":{"domain":[-3,3],"nice":false,"zero":false},"axis":null},"x2":{"field":"b"},"y":{"field":"ql","type":"quantitative","scale":{"domain":[0.8,1.2],"nice":false,"zero":false},"axis":null},"y2":{"field":"qh"},"color":{"field":"s","type":"nominal","scale":{"domain":["r","p","g","o","b"],"range":["#e41a1c","#984ea3","#4daf4a","#ff7f00","#a65628"]},"legend":null}}},
   {"transform":[{"fold":["a","b"],"as":["e","a"]}],"mark":{"type":"line","clip":true,"strokeWidth":2.8},"encoding":{"x":{"field":"a","type":"quantitative","scale":{"domain":[-3,3],"nice":false,"zero":false},"axis":null},"y":{"field":"q","type":"quantitative","scale":{"domain":[0.8,1.2],"nice":false,"zero":false},"axis":null},"color":{"field":"s","type":"nominal","scale":{"domain":["r","p","g","o","b"],"range":["#e41a1c","#984ea3","#4daf4a","#ff7f00","#a65628"]},"legend":null},"order":[{"field":"a","type":"quantitative"},{"field":"e","type":"nominal","sort":"descending"}]}},
   {"mark":{"type":"point","opacity":0},"encoding":{"x":{"field":"a","type":"quantitative","scale":{"domain":[-3,3],"nice":false,"zero":false},"axis":{"orient":"top","values":[-3,-2.8,-2.6,-2.4,-2.2,-2,-1.8,-1.6,-1.4,-1.2,-1,-0.8,-0.6,-0.4,-0.2,0,0.2,0.4,0.6,0.8,1,1.2,1.4,1.6,1.8,2,2.2,2.4,2.6,2.8,3],"labels":false,"grid":false,"tickSize":-4,"title":null,"minExtent":0,"maxExtent":0}},"y":{"field":"q","type":"quantitative","scale":{"domain":[0.8,1.2],"nice":false,"zero":false},"axis":{"orient":"right","values":[0.82,0.84,0.86,0.88,0.9,0.92,0.94,0.96,0.98,1,1.02,1.04,1.06,1.08,1.1,1.12,1.14,1.16,1.18],"labels":false,"grid":false,"tickSize":-4,"title":null,"minExtent":0,"maxExtent":0}}}},
   {"mark":{"type":"point","opacity":0},"encoding":{"x":{"field":"a","type":"quantitative","scale":{"domain":[-3,3],"nice":false,"zero":false},"axis":{"orient":"bottom","values":[-2.8,-2.6,-2.4,-2.2,-1.8,-1.6,-1.4,-1.2,-0.8,-0.6,-0.4,-0.2,0.2,0.4,0.6,0.8,1.2,1.4,1.6,1.8,2.2,2.4,2.6,2.8],"labels":false,"grid":false,"tickSize":-3,"title":null,"minExtent":0,"maxExtent":0}},"y":{"field":"q","type":"quantitative","scale":{"domain":[0.8,1.2],"nice":false,"zero":false},"axis":{"orient":"left","values":[0.82,0.84,0.86,0.88,0.92,0.94,0.96,0.98,1.02,1.04,1.06,1.08,1.12,1.14,1.16,1.18],"labels":false,"grid":false,"tickSize":-3,"title":null,"minExtent":0,"maxExtent":0}}}}
  ]},
  {"width":453,"height":139,"transform":[{"filter":"datum.o=='C'&&isValid(datum.r)"}],"resolve":{"axis":{"x":"independent","y":"independent"}},"layer":[
   {"mark":{"type":"rect","clip":true,"strokeWidth":0},"encoding":{"x":{"field":"a","type":"quantitative","scale":{"domain":[-3,3],"nice":false,"zero":false},"axis":{"values":[-3,-2,-1,0,1,2,3],"format":"d","title":"yZ₁"}},"x2":{"field":"b"},"y":{"field":"rl","type":"quantitative","scale":{"domain":[0.8,1.1],"nice":false,"zero":false},"axis":{"values":[0.8,0.9,1,1.1],"format":".1f","title":["Ratio to","nNNLO+PS"]}},"y2":{"field":"rh"},"color":{"field":"s","type":"nominal","scale":{"domain":["r","p","g","o","b"],"range":["#e41a1c","#984ea3","#4daf4a","#ff7f00","#a65628"]},"legend":{"orient":"top-right","direction":"horizontal","offset":6,"values":["o","b"],"title":null,"columnPadding":22,"labelExpr":"datum.label=='r'?'MɪNLO′':datum.label=='p'?'nNNLO+PS (MiNNLOₚₛ)':datum.label=='g'?'nNNLO (MATRIX)':datum.label=='o'?'NNLO+PS':'NNLOqq̄+PS'"}},"fillOpacity":{"condition":[{"test":"datum.s=='o'||datum.s=='b'","value":0.6}],"value":0.12}}},
   {"mark":{"type":"rect","clip":true,"filled":false,"strokeWidth":1},"encoding":{"x":{"field":"a","type":"quantitative","scale":{"domain":[-3,3],"nice":false,"zero":false},"axis":null},"x2":{"field":"b"},"y":{"field":"rl","type":"quantitative","scale":{"domain":[0.8,1.1],"nice":false,"zero":false},"axis":null},"y2":{"field":"rh"},"color":{"field":"s","type":"nominal","scale":{"domain":["r","p","g","o","b"],"range":["#e41a1c","#984ea3","#4daf4a","#ff7f00","#a65628"]}}}},
   {"transform":[{"fold":["a","b"],"as":["e","a"]}],"mark":{"type":"line","clip":true,"strokeWidth":2.8},"encoding":{"x":{"field":"a","type":"quantitative","scale":{"domain":[-3,3],"nice":false,"zero":false},"axis":null},"y":{"field":"r","type":"quantitative","scale":{"domain":[0.8,1.1],"nice":false,"zero":false},"axis":null},"color":{"field":"s","type":"nominal","scale":{"domain":["r","p","g","o","b"],"range":["#e41a1c","#984ea3","#4daf4a","#ff7f00","#a65628"]}},"order":[{"field":"a","type":"quantitative"},{"field":"e","type":"nominal","sort":"descending"}]}},
   {"mark":{"type":"point","opacity":0},"encoding":{"x":{"field":"a","type":"quantitative","scale":{"domain":[-3,3],"nice":false,"zero":false},"axis":{"orient":"top","values":[-3,-2.8,-2.6,-2.4,-2.2,-2,-1.8,-1.6,-1.4,-1.2,-1,-0.8,-0.6,-0.4,-0.2,0,0.2,0.4,0.6,0.8,1,1.2,1.4,1.6,1.8,2,2.2,2.4,2.6,2.8,3],"labels":false,"grid":false,"tickSize":-4,"title":null,"minExtent":0,"maxExtent":0}},"y":{"field":"r","type":"quantitative","scale":{"domain":[0.8,1.1],"nice":false,"zero":false},"axis":{"orient":"right","values":[0.82,0.84,0.86,0.88,0.9,0.92,0.94,0.96,0.98,1,1.02,1.04,1.06,1.08],"labels":false,"grid":false,"tickSize":-4,"title":null,"minExtent":0,"maxExtent":0}}}},
   {"mark":{"type":"point","opacity":0},"encoding":{"x":{"field":"a","type":"quantitative","scale":{"domain":[-3,3],"nice":false,"zero":false},"axis":{"orient":"bottom","values":[-2.8,-2.6,-2.4,-2.2,-1.8,-1.6,-1.4,-1.2,-0.8,-0.6,-0.4,-0.2,0.2,0.4,0.6,0.8,1.2,1.4,1.6,1.8,2.2,2.4,2.6,2.8],"labels":false,"grid":false,"tickSize":-3,"title":null,"minExtent":0,"maxExtent":0}},"y":{"field":"r","type":"quantitative","scale":{"domain":[0.8,1.1],"nice":false,"zero":false},"axis":{"orient":"left","values":[0.82,0.84,0.86,0.88,0.92,0.94,0.96,0.98,1.02,1.04,1.06,1.08],"labels":false,"grid":false,"tickSize":-3,"title":null,"minExtent":0,"maxExtent":0}}}}
  ]}
 ],"spacing":10,"bounds":"flush","resolve":{"scale":{"x":"independent","y":"independent","color":"independent"},"axis":{"x":"independent","y":"independent"},"legend":{"color":"independent"}}},
 {"vconcat":[
  {"width":450,"height":277,"transform":[{"filter":"datum.o=='D'&&isValid(datum.c)"}],"resolve":{"axis":{"x":"independent","y":"independent"}},"layer":[
   {"mark":{"type":"rect","clip":true,"strokeWidth":0},"encoding":{"x":{"field":"a","type":"quantitative","scale":{"domain":[-3,3],"nice":false,"zero":false},"axis":{"values":[-3,-2,-1,0,1,2,3],"labels":false,"title":null}},"x2":{"field":"b"},"y":{"field":"l","type":"quantitative","scale":{"domain":[0,10],"nice":false,"zero":false},"axis":{"values":[2,4,6,8,10],"labelFlush":false,"title":"dσ / dy₄ℓ  [fb]"}},"y2":{"field":"h"},"color":{"field":"s","type":"nominal","scale":{"domain":["r","p","g","o","b"],"range":["#e41a1c","#984ea3","#4daf4a","#ff7f00","#a65628"]},"legend":{"orient":"none","legendX":106,"legendY":210,"values":["r","p","g"],"title":null,"labelExpr":"datum.label=='r'?'MɪNLO′':datum.label=='p'?'nNNLO+PS (MiNNLOₚₛ)':datum.label=='g'?'nNNLO (MATRIX)':datum.label=='o'?'NNLO+PS':'NNLOqq̄+PS'"}},"fillOpacity":{"condition":[{"test":"datum.s=='r'","value":0.3}],"value":0.15}}},
   {"mark":{"type":"rect","clip":true,"filled":false,"strokeWidth":1},"encoding":{"x":{"field":"a","type":"quantitative","scale":{"domain":[-3,3],"nice":false,"zero":false},"axis":null},"x2":{"field":"b"},"y":{"field":"l","type":"quantitative","scale":{"domain":[0,10],"nice":false,"zero":false},"axis":null},"y2":{"field":"h"},"color":{"field":"s","type":"nominal","scale":{"domain":["r","p","g","o","b"],"range":["#e41a1c","#984ea3","#4daf4a","#ff7f00","#a65628"]}}}},
   {"transform":[{"fold":["a","b"],"as":["e","a"]}],"mark":{"type":"line","clip":true,"strokeWidth":2.8},"encoding":{"x":{"field":"a","type":"quantitative","scale":{"domain":[-3,3],"nice":false,"zero":false},"axis":null},"y":{"field":"c","type":"quantitative","scale":{"domain":[0,10],"nice":false,"zero":false},"axis":null},"color":{"field":"s","type":"nominal","scale":{"domain":["r","p","g","o","b"],"range":["#e41a1c","#984ea3","#4daf4a","#ff7f00","#a65628"]}},"order":[{"field":"a","type":"quantitative"},{"field":"e","type":"nominal","sort":"descending"}]}},
   {"mark":{"type":"point","opacity":0},"encoding":{"x":{"field":"a","type":"quantitative","scale":{"domain":[-3,3],"nice":false,"zero":false},"axis":{"orient":"top","values":[-3,-2.8,-2.6,-2.4,-2.2,-2,-1.8,-1.6,-1.4,-1.2,-1,-0.8,-0.6,-0.4,-0.2,0,0.2,0.4,0.6,0.8,1,1.2,1.4,1.6,1.8,2,2.2,2.4,2.6,2.8,3],"labels":false,"grid":false,"tickSize":-4,"title":null,"minExtent":0,"maxExtent":0}},"y":{"field":"c","type":"quantitative","scale":{"domain":[0,10],"nice":false,"zero":false},"axis":{"orient":"right","values":[0.5,1,1.5,2,2.5,3,3.5,4,4.5,5,5.5,6,6.5,7,7.5,8,8.5,9,9.5],"labels":false,"grid":false,"tickSize":-4,"title":null,"minExtent":0,"maxExtent":0}}}},
   {"mark":{"type":"point","opacity":0},"encoding":{"x":{"field":"a","type":"quantitative","scale":{"domain":[-3,3],"nice":false,"zero":false},"axis":{"orient":"bottom","values":[-2.8,-2.6,-2.4,-2.2,-1.8,-1.6,-1.4,-1.2,-0.8,-0.6,-0.4,-0.2,0.2,0.4,0.6,0.8,1.2,1.4,1.6,1.8,2.2,2.4,2.6,2.8],"labels":false,"grid":false,"tickSize":-3,"title":null,"minExtent":0,"maxExtent":0}},"y":{"field":"c","type":"quantitative","scale":{"domain":[0,10],"nice":false,"zero":false},"axis":{"orient":"left","values":[0.5,1,1.5,2.5,3,3.5,4.5,5,5.5,6.5,7,7.5,8.5,9,9.5],"labels":false,"grid":false,"tickSize":-3,"title":null,"minExtent":0,"maxExtent":0}}}}
  ]},
  {"width":450,"height":140,"transform":[{"filter":"datum.o=='D'&&isValid(datum.q)"}],"resolve":{"axis":{"x":"independent","y":"independent"}},"layer":[
   {"mark":{"type":"rect","clip":true,"strokeWidth":0},"encoding":{"x":{"field":"a","type":"quantitative","scale":{"domain":[-3,3],"nice":false,"zero":false},"axis":{"values":[-3,-2,-1,0,1,2,3],"labels":false,"title":null}},"x2":{"field":"b"},"y":{"field":"ql","type":"quantitative","scale":{"domain":[0.8,1.2],"nice":false,"zero":false},"axis":{"values":[0.8,0.9,1,1.1,1.2],"format":".1f","title":["Ratio to","nNNLO"]}},"y2":{"field":"qh"},"color":{"field":"s","type":"nominal","scale":{"domain":["r","p","g","o","b"],"range":["#e41a1c","#984ea3","#4daf4a","#ff7f00","#a65628"]},"legend":null},"fillOpacity":{"condition":[{"test":"datum.s=='r'","value":0.25}],"value":0.15}}},
   {"mark":{"type":"rect","clip":true,"filled":false,"strokeWidth":1},"encoding":{"x":{"field":"a","type":"quantitative","scale":{"domain":[-3,3],"nice":false,"zero":false},"axis":null},"x2":{"field":"b"},"y":{"field":"ql","type":"quantitative","scale":{"domain":[0.8,1.2],"nice":false,"zero":false},"axis":null},"y2":{"field":"qh"},"color":{"field":"s","type":"nominal","scale":{"domain":["r","p","g","o","b"],"range":["#e41a1c","#984ea3","#4daf4a","#ff7f00","#a65628"]},"legend":null}}},
   {"transform":[{"fold":["a","b"],"as":["e","a"]}],"mark":{"type":"line","clip":true,"strokeWidth":2.8},"encoding":{"x":{"field":"a","type":"quantitative","scale":{"domain":[-3,3],"nice":false,"zero":false},"axis":null},"y":{"field":"q","type":"quantitative","scale":{"domain":[0.8,1.2],"nice":false,"zero":false},"axis":null},"color":{"field":"s","type":"nominal","scale":{"domain":["r","p","g","o","b"],"range":["#e41a1c","#984ea3","#4daf4a","#ff7f00","#a65628"]},"legend":null},"order":[{"field":"a","type":"quantitative"},{"field":"e","type":"nominal","sort":"descending"}]}},
   {"mark":{"type":"point","opacity":0},"encoding":{"x":{"field":"a","type":"quantitative","scale":{"domain":[-3,3],"nice":false,"zero":false},"axis":{"orient":"top","values":[-3,-2.8,-2.6,-2.4,-2.2,-2,-1.8,-1.6,-1.4,-1.2,-1,-0.8,-0.6,-0.4,-0.2,0,0.2,0.4,0.6,0.8,1,1.2,1.4,1.6,1.8,2,2.2,2.4,2.6,2.8,3],"labels":false,"grid":false,"tickSize":-4,"title":null,"minExtent":0,"maxExtent":0}},"y":{"field":"q","type":"quantitative","scale":{"domain":[0.8,1.2],"nice":false,"zero":false},"axis":{"orient":"right","values":[0.82,0.84,0.86,0.88,0.9,0.92,0.94,0.96,0.98,1,1.02,1.04,1.06,1.08,1.1,1.12,1.14,1.16,1.18],"labels":false,"grid":false,"tickSize":-4,"title":null,"minExtent":0,"maxExtent":0}}}},
   {"mark":{"type":"point","opacity":0},"encoding":{"x":{"field":"a","type":"quantitative","scale":{"domain":[-3,3],"nice":false,"zero":false},"axis":{"orient":"bottom","values":[-2.8,-2.6,-2.4,-2.2,-1.8,-1.6,-1.4,-1.2,-0.8,-0.6,-0.4,-0.2,0.2,0.4,0.6,0.8,1.2,1.4,1.6,1.8,2.2,2.4,2.6,2.8],"labels":false,"grid":false,"tickSize":-3,"title":null,"minExtent":0,"maxExtent":0}},"y":{"field":"q","type":"quantitative","scale":{"domain":[0.8,1.2],"nice":false,"zero":false},"axis":{"orient":"left","values":[0.82,0.84,0.86,0.88,0.92,0.94,0.96,0.98,1.02,1.04,1.06,1.08,1.12,1.14,1.16,1.18],"labels":false,"grid":false,"tickSize":-3,"title":null,"minExtent":0,"maxExtent":0}}}}
  ]},
  {"width":450,"height":139,"transform":[{"filter":"datum.o=='D'&&isValid(datum.r)"}],"resolve":{"axis":{"x":"independent","y":"independent"}},"layer":[
   {"mark":{"type":"rect","clip":true,"strokeWidth":0},"encoding":{"x":{"field":"a","type":"quantitative","scale":{"domain":[-3,3],"nice":false,"zero":false},"axis":{"values":[-3,-2,-1,0,1,2,3],"format":"d","title":"y₄ℓ"}},"x2":{"field":"b"},"y":{"field":"rl","type":"quantitative","scale":{"domain":[0.8,1.1],"nice":false,"zero":false},"axis":{"values":[0.8,0.9,1,1.1],"format":".1f","title":["Ratio to","nNNLO+PS"]}},"y2":{"field":"rh"},"color":{"field":"s","type":"nominal","scale":{"domain":["r","p","g","o","b"],"range":["#e41a1c","#984ea3","#4daf4a","#ff7f00","#a65628"]},"legend":{"orient":"top-right","direction":"horizontal","offset":6,"values":["o","b"],"title":null,"columnPadding":22,"labelExpr":"datum.label=='r'?'MɪNLO′':datum.label=='p'?'nNNLO+PS (MiNNLOₚₛ)':datum.label=='g'?'nNNLO (MATRIX)':datum.label=='o'?'NNLO+PS':'NNLOqq̄+PS'"}},"fillOpacity":{"condition":[{"test":"datum.s=='o'||datum.s=='b'","value":0.6}],"value":0.12}}},
   {"mark":{"type":"rect","clip":true,"filled":false,"strokeWidth":1},"encoding":{"x":{"field":"a","type":"quantitative","scale":{"domain":[-3,3],"nice":false,"zero":false},"axis":null},"x2":{"field":"b"},"y":{"field":"rl","type":"quantitative","scale":{"domain":[0.8,1.1],"nice":false,"zero":false},"axis":null},"y2":{"field":"rh"},"color":{"field":"s","type":"nominal","scale":{"domain":["r","p","g","o","b"],"range":["#e41a1c","#984ea3","#4daf4a","#ff7f00","#a65628"]}}}},
   {"transform":[{"fold":["a","b"],"as":["e","a"]}],"mark":{"type":"line","clip":true,"strokeWidth":2.8},"encoding":{"x":{"field":"a","type":"quantitative","scale":{"domain":[-3,3],"nice":false,"zero":false},"axis":null},"y":{"field":"r","type":"quantitative","scale":{"domain":[0.8,1.1],"nice":false,"zero":false},"axis":null},"color":{"field":"s","type":"nominal","scale":{"domain":["r","p","g","o","b"],"range":["#e41a1c","#984ea3","#4daf4a","#ff7f00","#a65628"]}},"order":[{"field":"a","type":"quantitative"},{"field":"e","type":"nominal","sort":"descending"}]}},
   {"mark":{"type":"point","opacity":0},"encoding":{"x":{"field":"a","type":"quantitative","scale":{"domain":[-3,3],"nice":false,"zero":false},"axis":{"orient":"top","values":[-3,-2.8,-2.6,-2.4,-2.2,-2,-1.8,-1.6,-1.4,-1.2,-1,-0.8,-0.6,-0.4,-0.2,0,0.2,0.4,0.6,0.8,1,1.2,1.4,1.6,1.8,2,2.2,2.4,2.6,2.8,3],"labels":false,"grid":false,"tickSize":-4,"title":null,"minExtent":0,"maxExtent":0}},"y":{"field":"r","type":"quantitative","scale":{"domain":[0.8,1.1],"nice":false,"zero":false},"axis":{"orient":"right","values":[0.82,0.84,0.86,0.88,0.9,0.92,0.94,0.96,0.98,1,1.02,1.04,1.06,1.08],"labels":false,"grid":false,"tickSize":-4,"title":null,"minExtent":0,"maxExtent":0}}}},
   {"mark":{"type":"point","opacity":0},"encoding":{"x":{"field":"a","type":"quantitative","scale":{"domain":[-3,3],"nice":false,"zero":false},"axis":{"orient":"bottom","values":[-2.8,-2.6,-2.4,-2.2,-1.8,-1.6,-1.4,-1.2,-0.8,-0.6,-0.4,-0.2,0.2,0.4,0.6,0.8,1.2,1.4,1.6,1.8,2.2,2.4,2.6,2.8],"labels":false,"grid":false,"tickSize":-3,"title":null,"minExtent":0,"maxExtent":0}},"y":{"field":"r","type":"quantitative","scale":{"domain":[0.8,1.1],"nice":false,"zero":false},"axis":{"orient":"left","values":[0.82,0.84,0.86,0.88,0.92,0.94,0.96,0.98,1.02,1.04,1.06,1.08],"labels":false,"grid":false,"tickSize":-3,"title":null,"minExtent":0,"maxExtent":0}}}}
  ]}
 ],"spacing":10,"bounds":"flush","resolve":{"scale":{"x":"independent","y":"independent","color":"independent"},"axis":{"x":"independent","y":"independent"},"legend":{"color":"independent"}}}
],"spacing":34,"resolve":{"scale":{"x":"independent","y":"independent","color":"independent"},"axis":{"x":"independent","y":"independent"},"legend":{"color":"independent"}}}
],
"config":{
 "font":"DejaVu Serif",
 "view":{"stroke":"#222","strokeWidth":1.2},
 "axis":{"domain":false,"grid":true,"gridColor":"#d9d9d9","gridWidth":1.2,"tickColor":"#222","tickSize":-6,"tickWidth":1.2,"labelFont":"DejaVu Serif","labelFontSize":13,"labelColor":"#333","titleFont":"DejaVu Serif","titleFontSize":13,"titleFontWeight":"normal","titleColor":"#333","titleLineHeight":16},
 "axisY":{"labelPadding":20,"minExtent":40,"maxExtent":40,"titlePadding":5,"labelFlush":true},
 "axisX":{"labelPadding":22,"titlePadding":6},
 "legend":{"labelFont":"DejaVu Serif","labelFontSize":15,"labelColor":"#333","fillColor":"rgba(242,242,242,0.9)","padding":4,"rowPadding":4,"labelLimit":400,"symbolType":"M-2,-0.7H2V0.7H-2Z","symbolSize":196,"symbolOffset":8,"labelOffset":14,"symbolStrokeWidth":1.5}
}
}
